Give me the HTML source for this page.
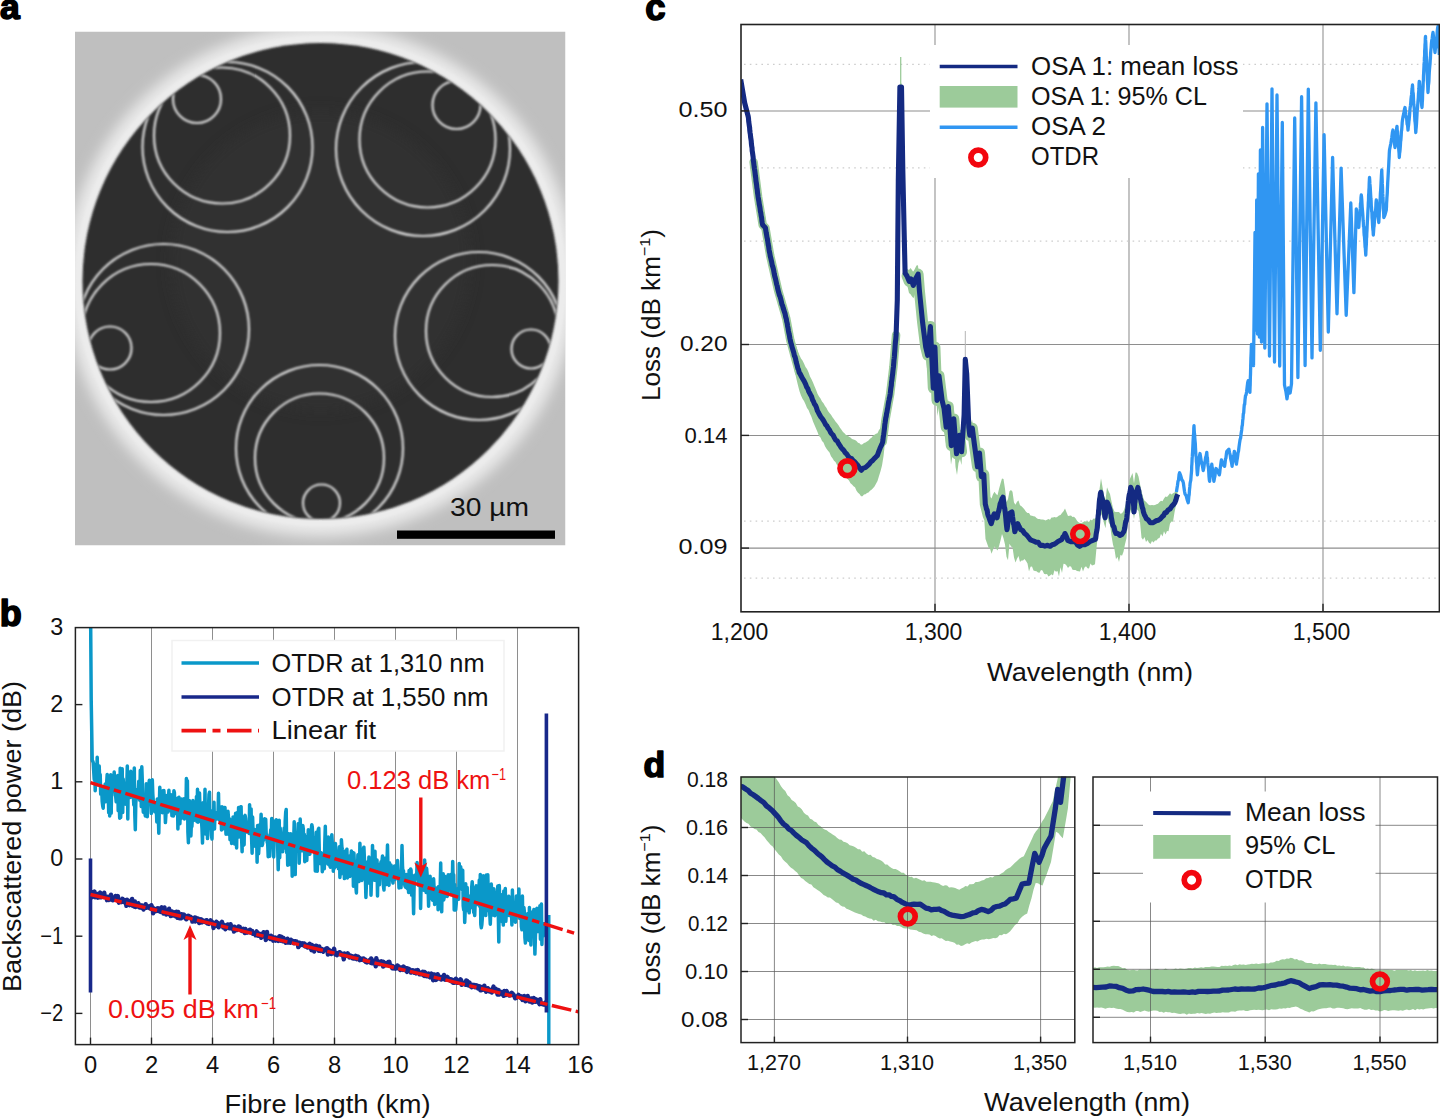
<!DOCTYPE html>
<html lang="en"><head><meta charset="utf-8"><title>Figure: hollow-core fibre loss</title>
<style>html,body{margin:0;padding:0;background:#fff}body{width:1440px;height:1120px;overflow:hidden}svg{display:block}text{font-family:"Liberation Sans", sans-serif}</style>
</head><body>
<svg width="1440" height="1120" viewBox="0 0 1440 1120">
<rect width="1440" height="1120" fill="#fff"/>
<text x="0.0" y="19.4" font-size="35.5" fill="#000" font-weight="bold" stroke="#000" stroke-width="1.6" stroke-linejoin="round">a</text>
<text x="-0.2" y="625.6" font-size="36" fill="#000" font-weight="bold" stroke="#000" stroke-width="1.6" stroke-linejoin="round">b</text>
<text x="645.3" y="19.6" font-size="36.5" fill="#000" font-weight="bold" stroke="#000" stroke-width="1.6" stroke-linejoin="round">c</text>
<text x="643.4" y="776.6" font-size="35.5" fill="#000" font-weight="bold" stroke="#000" stroke-width="1.6" stroke-linejoin="round">d</text>
<defs>
<clipPath id="aclip"><rect x="75" y="31.5" width="490.5" height="514.0"/></clipPath>
<clipPath id="bigc"><circle cx="320.5" cy="281" r="237.5"/></clipPath>
<filter id="blur14" x="-20%" y="-20%" width="140%" height="140%"><feGaussianBlur stdDeviation="7"/></filter>
<filter id="blur1" x="-5%" y="-5%" width="110%" height="110%"><feGaussianBlur stdDeviation="0.9"/></filter>
<filter id="blur06"><feGaussianBlur stdDeviation="0.85"/></filter>
</defs>
<g clip-path="url(#aclip)">
<rect x="75" y="31.5" width="490.5" height="514.0" fill="#bfbfbf"/>
<circle cx="320.5" cy="281" r="244" fill="none" stroke="#ebebeb" stroke-width="22" filter="url(#blur14)"/>
<circle cx="320.5" cy="281" r="241" fill="none" stroke="#ececec" stroke-width="9" filter="url(#blur1)"/>
<g filter="url(#blur1)"><circle cx="320.5" cy="281" r="238" fill="#2d2d2d"/></g>
<circle cx="320.5" cy="261" r="150" fill="#343434" opacity="0.5" filter="url(#blur14)" clip-path="url(#bigc)"/>
<g fill="none" stroke="#dcdcdc" stroke-width="2.2" filter="url(#blur06)"><g clip-path="url(#bigc)"><circle cx="227.5" cy="147" r="85"/><circle cx="222" cy="135.5" r="68"/><circle cx="197" cy="99" r="24"/><circle cx="423" cy="149" r="87"/><circle cx="427.5" cy="139.5" r="68"/><circle cx="456.5" cy="105" r="24"/><circle cx="163.5" cy="329.5" r="85.5"/><circle cx="151" cy="333" r="69"/><circle cx="110" cy="348" r="21.5"/><circle cx="479" cy="336" r="84"/><circle cx="492" cy="331" r="66"/><circle cx="531" cy="349" r="19.5"/><circle cx="319.5" cy="448.5" r="83.5"/><circle cx="319.5" cy="458" r="64.5"/><circle cx="321.5" cy="503" r="18.5"/></g></g>
</g>
<rect x="397" y="530.5" width="158" height="8.3" fill="#000"/>
<text x="450.0" y="516.0" font-size="25" textLength="79.0" lengthAdjust="spacingAndGlyphs" fill="#111">30 µm</text>
<rect x="75.4" y="627.6" width="503.20000000000005" height="416.9999999999999" fill="#fff"/>
<g stroke="#8e8e8e" stroke-width="1"><line x1="90.5" y1="627.6" x2="90.5" y2="1044.6"/><line x1="151.5" y1="627.6" x2="151.5" y2="1044.6"/><line x1="212.5" y1="627.6" x2="212.5" y2="1044.6"/><line x1="273.5" y1="627.6" x2="273.5" y2="1044.6"/><line x1="334.5" y1="627.6" x2="334.5" y2="1044.6"/><line x1="395.5" y1="627.6" x2="395.5" y2="1044.6"/><line x1="456.5" y1="627.6" x2="456.5" y2="1044.6"/><line x1="517.5" y1="627.6" x2="517.5" y2="1044.6"/></g>
<defs><clipPath id="bclip"><rect x="75" y="628" width="503.6" height="417"/></clipPath></defs>
<g clip-path="url(#bclip)" fill="none" stroke-linejoin="round" stroke-linecap="butt">
<polyline points="90.5,600.0 91.2,700.0 92.2,760.0 93.2,762.5 94.2,779.4 94.7,764.2 95.2,790.7 95.7,769.5 96.2,782.9 96.7,785.1 97.2,757.2 97.7,776.0 98.2,781.6 98.7,772.4 99.2,766.0 99.7,780.3 100.2,774.5 100.7,794.2 101.2,789.4 101.7,789.7 102.2,801.6 102.7,805.8 103.2,808.2 103.7,790.4 104.2,787.0 104.7,788.6 105.2,783.9 105.7,801.7 106.2,788.0 106.7,782.0 107.2,774.4 107.7,794.4 108.2,791.7 108.7,812.6 109.2,796.0 109.7,815.9 110.2,808.8 110.7,774.8 111.2,813.2 111.7,779.7 112.2,781.0 112.7,789.7 113.2,781.0 113.7,779.0 114.2,772.0 114.7,787.8 115.2,795.1 115.7,796.5 116.2,801.8 116.7,790.4 117.2,798.5 117.7,775.5 118.2,810.8 118.7,806.0 119.2,803.6 119.7,818.3 120.2,768.2 120.7,817.4 121.2,797.1 121.7,797.3 122.2,768.8 122.7,812.5 123.2,779.1 123.7,797.8 124.2,793.2 124.7,799.4 125.2,783.3 125.8,804.3 126.3,793.7 126.8,786.6 127.3,766.1 127.8,818.9 128.3,775.4 128.8,776.6 129.3,795.7 129.8,788.3 130.3,797.5 130.8,771.2 131.3,786.3 131.8,794.3 132.3,795.8 132.8,795.8 133.3,795.6 133.8,804.9 134.3,767.9 134.8,814.6 135.3,829.7 135.8,802.8 136.3,797.0 136.8,789.5 137.3,796.1 137.8,796.5 138.3,790.3 138.8,781.2 139.3,798.6 139.8,800.3 140.3,770.3 140.8,784.5 141.3,806.6 141.8,766.7 142.3,781.1 142.8,801.3 143.3,812.2 143.8,794.6 144.3,806.9 144.8,811.9 145.3,815.9 145.8,806.2 146.3,783.8 146.8,800.7 147.3,816.8 147.8,791.5 148.3,795.7 148.8,786.3 149.3,780.3 149.8,797.5 150.3,799.9 150.8,799.1 151.3,813.4 151.8,792.0 152.3,779.7 152.8,793.8 153.3,801.4 153.8,803.0 154.3,810.2 154.8,811.7 155.3,806.8 155.8,811.9 156.3,807.5 156.8,822.0 157.3,799.0 157.8,799.6 158.3,815.6 158.8,833.2 159.3,805.9 159.8,787.3 160.3,808.8 160.9,808.9 161.4,810.1 161.9,794.4 162.4,812.8 162.9,790.7 163.4,804.4 163.9,790.5 164.4,800.3 164.9,805.3 165.4,822.6 165.9,814.9 166.4,808.3 166.9,795.4 167.4,799.0 167.9,812.1 168.4,799.6 168.9,790.3 169.4,804.0 169.9,809.9 170.4,810.4 170.9,794.8 171.4,796.1 171.9,815.7 172.4,801.7 172.9,810.9 173.4,816.0 173.9,790.8 174.4,792.6 174.9,813.3 175.4,806.0 175.9,799.5 176.4,813.6 176.9,809.1 177.4,798.2 177.9,828.9 178.4,805.9 178.9,797.2 179.4,799.1 179.9,823.7 180.4,805.8 180.9,818.7 181.4,802.0 181.9,799.1 182.4,803.9 182.9,817.7 183.4,817.6 183.9,798.7 184.4,819.0 184.9,803.9 185.4,801.6 185.9,811.7 186.4,778.5 186.9,803.9 187.4,780.7 187.9,831.9 188.4,842.7 188.9,802.2 189.4,800.7 189.9,813.1 190.4,811.7 190.9,835.9 191.4,822.9 191.9,826.4 192.4,816.4 192.9,800.5 193.4,809.2 193.9,806.5 194.4,820.2 194.9,819.0 195.4,811.7 196.0,816.0 196.5,796.4 197.0,821.7 197.5,789.3 198.0,822.3 198.5,800.6 199.0,821.5 199.5,793.0 200.0,808.7 200.5,807.8 201.0,803.2 201.5,820.8 202.0,828.9 202.5,843.1 203.0,802.8 203.5,822.0 204.0,823.7 204.5,816.7 205.0,789.3 205.5,834.1 206.0,815.0 206.5,820.7 207.0,809.5 207.5,838.6 208.0,824.7 208.5,806.5 209.0,794.5 209.5,792.3 210.0,824.3 210.5,817.3 211.0,818.5 211.5,835.4 212.0,839.0 212.5,810.8 213.0,813.4 213.5,819.0 214.0,802.2 214.5,828.9 215.0,813.0 215.5,817.5 216.0,819.2 216.5,812.4 217.0,815.6 217.5,815.0 218.0,815.1 218.5,793.3 219.0,819.7 219.5,806.4 220.0,809.8 220.5,823.1 221.0,810.1 221.5,830.0 222.0,806.7 222.5,829.1 223.0,828.5 223.5,817.8 224.0,809.7 224.5,807.6 225.0,807.6 225.5,822.2 226.0,834.3 226.5,816.5 227.0,817.2 227.5,833.9 228.0,811.3 228.5,818.2 229.0,834.5 229.5,818.8 230.0,839.7 230.6,837.1 231.1,820.1 231.6,843.4 232.1,826.1 232.6,841.8 233.1,816.9 233.6,832.5 234.1,823.1 234.6,843.9 235.1,831.9 235.6,813.3 236.1,817.1 236.6,847.9 237.1,816.4 237.6,812.3 238.1,828.4 238.6,807.4 239.1,836.9 239.6,828.7 240.1,811.9 240.6,806.9 241.1,806.7 241.6,837.9 242.1,851.8 242.6,825.5 243.1,845.6 243.6,831.7 244.1,844.8 244.6,816.2 245.1,815.4 245.6,818.6 246.1,826.3 246.6,827.2 247.1,832.0 247.6,823.9 248.1,824.6 248.6,822.1 249.1,833.5 249.6,804.8 250.1,821.8 250.6,809.9 251.1,809.1 251.6,838.1 252.1,853.2 252.6,817.0 253.1,833.2 253.6,829.7 254.1,833.7 254.6,829.4 255.1,846.2 255.6,834.6 256.1,837.7 256.6,832.4 257.1,862.2 257.6,825.4 258.1,826.4 258.6,853.7 259.1,844.9 259.6,833.7 260.1,824.3 260.6,831.2 261.1,814.3 261.6,829.7 262.1,845.6 262.6,843.9 263.1,825.1 263.6,840.2 264.1,823.5 264.6,818.8 265.1,823.9 265.7,819.2 266.2,834.2 266.7,834.5 267.2,842.3 267.7,843.8 268.2,856.7 268.7,845.5 269.2,850.8 269.7,856.3 270.2,836.7 270.7,829.8 271.2,839.3 271.7,818.5 272.2,821.1 272.7,820.2 273.2,841.9 273.7,856.9 274.2,832.4 274.7,832.1 275.2,826.7 275.7,830.1 276.2,819.7 276.7,838.6 277.2,829.0 277.7,848.2 278.2,869.8 278.7,848.7 279.2,820.2 279.7,857.7 280.2,828.1 280.7,846.0 281.2,845.2 281.7,839.4 282.2,836.4 282.7,851.7 283.2,839.7 283.7,833.8 284.2,828.0 284.7,848.1 285.2,821.0 285.7,812.4 286.2,809.5 286.7,852.8 287.2,840.3 287.7,865.2 288.2,839.7 288.7,833.7 289.2,855.3 289.7,864.4 290.2,842.6 290.7,833.7 291.2,851.2 291.7,846.9 292.2,876.2 292.7,856.8 293.2,842.8 293.7,840.8 294.2,821.8 294.7,854.9 295.2,874.6 295.7,842.1 296.2,851.1 296.7,841.1 297.2,834.0 297.7,834.6 298.2,823.8 298.7,823.5 299.2,863.2 299.7,848.3 300.2,819.1 300.8,846.4 301.3,832.6 301.8,844.1 302.3,850.8 302.8,825.6 303.3,829.1 303.8,846.6 304.3,834.2 304.8,861.7 305.3,858.2 305.8,836.4 306.3,844.6 306.8,860.5 307.3,843.1 307.8,842.2 308.3,829.7 308.8,832.2 309.3,848.9 309.8,854.3 310.3,850.7 310.8,851.5 311.3,829.5 311.8,824.7 312.3,827.2 312.8,840.5 313.3,850.8 313.8,837.4 314.3,852.0 314.8,846.6 315.3,870.9 315.8,858.4 316.3,832.2 316.8,860.8 317.3,871.3 317.8,855.6 318.3,829.3 318.8,828.4 319.3,852.1 319.8,857.4 320.3,853.5 320.8,863.8 321.3,852.8 321.8,855.6 322.3,871.7 322.8,862.4 323.3,856.9 323.8,864.2 324.3,868.8 324.8,843.0 325.3,826.3 325.8,852.6 326.3,858.5 326.8,847.3 327.3,855.4 327.8,864.0 328.3,836.9 328.8,864.8 329.3,865.1 329.8,864.4 330.3,867.3 330.8,859.4 331.3,847.7 331.8,834.7 332.3,843.1 332.8,852.7 333.3,871.2 333.8,858.5 334.3,868.2 334.8,858.8 335.4,843.4 335.9,851.3 336.4,858.1 336.9,866.4 337.4,858.2 337.9,855.3 338.4,868.7 338.9,865.2 339.4,846.7 339.9,877.4 340.4,866.1 340.9,874.1 341.4,839.8 341.9,847.1 342.4,849.6 342.9,851.6 343.4,853.5 343.9,853.8 344.4,878.6 344.9,858.3 345.4,851.0 345.9,876.6 346.4,851.0 346.9,849.3 347.4,877.9 347.9,868.6 348.4,865.1 348.9,867.7 349.4,856.1 349.9,876.4 350.4,865.8 350.9,858.4 351.4,850.9 351.9,858.7 352.4,863.9 352.9,852.5 353.4,886.2 353.9,853.0 354.4,864.4 354.9,878.6 355.4,870.1 355.9,887.4 356.4,892.9 356.9,871.3 357.4,874.1 357.9,854.8 358.4,873.3 358.9,881.6 359.4,878.6 359.9,843.2 360.4,860.2 360.9,871.2 361.4,878.0 361.9,880.5 362.4,868.8 362.9,859.4 363.4,848.6 363.9,847.2 364.4,858.6 364.9,872.6 365.4,877.5 365.9,897.5 366.4,883.6 366.9,862.8 367.4,869.7 367.9,861.6 368.4,883.1 368.9,857.0 369.4,861.1 369.9,865.1 370.5,861.2 371.0,895.3 371.5,878.6 372.0,880.6 372.5,845.5 373.0,866.6 373.5,874.1 374.0,857.5 374.5,880.2 375.0,851.2 375.5,874.9 376.0,870.1 376.5,880.8 377.0,859.9 377.5,896.0 378.0,864.0 378.5,879.1 379.0,870.1 379.5,884.7 380.0,868.9 380.5,867.2 381.0,861.8 381.5,864.7 382.0,861.3 382.5,856.0 383.0,873.5 383.5,886.6 384.0,890.0 384.5,865.0 385.0,875.2 385.5,858.1 386.0,868.9 386.5,884.5 387.0,861.8 387.5,845.0 388.0,870.4 388.5,884.3 389.0,885.3 389.5,862.8 390.0,878.9 390.5,879.1 391.0,865.0 391.5,871.8 392.0,871.6 392.5,880.4 393.0,883.1 393.5,873.1 394.0,871.8 394.5,866.0 395.0,879.6 395.5,870.7 396.0,867.8 396.5,872.6 397.0,867.1 397.5,860.6 398.0,870.5 398.5,873.6 399.0,888.0 399.5,873.3 400.0,876.7 400.5,880.2 401.0,887.6 401.5,870.5 402.0,845.6 402.5,865.8 403.0,874.0 403.5,870.8 404.0,884.0 404.5,877.0 405.0,886.1 405.6,887.3 406.1,876.1 406.6,874.6 407.1,879.0 407.6,888.8 408.1,876.5 408.6,892.5 409.1,870.6 409.6,882.2 410.1,879.5 410.6,868.9 411.1,870.4 411.6,895.1 412.1,885.2 412.6,875.8 413.1,893.6 413.6,913.7 414.1,886.2 414.6,881.9 415.1,875.1 415.6,878.8 416.1,878.8 416.6,877.6 417.1,862.6 417.6,872.2 418.1,873.0 418.6,885.5 419.1,867.6 419.6,882.3 420.1,872.5 420.6,908.5 421.1,883.1 421.6,883.9 422.1,889.0 422.6,866.9 423.1,875.3 423.6,883.9 424.1,890.3 424.6,859.9 425.1,870.3 425.6,873.2 426.1,892.4 426.6,868.3 427.1,874.6 427.6,886.5 428.1,886.3 428.6,906.3 429.1,879.6 429.6,898.6 430.1,876.2 430.6,889.8 431.1,894.3 431.6,882.2 432.1,882.6 432.6,900.3 433.1,889.3 433.6,878.8 434.1,888.6 434.6,904.5 435.1,892.6 435.6,900.4 436.1,896.7 436.6,888.1 437.1,888.2 437.6,890.4 438.1,909.8 438.6,886.6 439.1,890.5 439.6,893.9 440.2,887.2 440.7,863.1 441.2,901.7 441.7,911.8 442.2,882.4 442.7,898.5 443.2,873.7 443.7,900.0 444.2,897.5 444.7,880.0 445.2,876.5 445.7,882.3 446.2,883.1 446.7,891.0 447.2,896.4 447.7,894.2 448.2,874.8 448.7,879.3 449.2,889.2 449.7,886.9 450.2,880.0 450.7,874.4 451.2,890.9 451.7,892.8 452.2,887.9 452.7,861.4 453.2,884.0 453.7,874.7 454.2,910.1 454.7,884.4 455.2,910.1 455.7,909.8 456.2,904.1 456.7,897.0 457.2,891.8 457.7,888.7 458.2,890.3 458.7,899.3 459.2,863.4 459.7,884.3 460.2,884.4 460.7,866.8 461.2,878.1 461.7,885.0 462.2,889.5 462.7,870.2 463.2,905.8 463.7,909.7 464.2,896.0 464.7,922.5 465.2,910.3 465.7,883.7 466.2,900.6 466.7,895.1 467.2,887.5 467.7,910.7 468.2,895.6 468.7,905.2 469.2,912.8 469.7,903.4 470.2,899.3 470.7,903.3 471.2,907.4 471.7,887.2 472.2,881.7 472.7,888.8 473.2,898.5 473.7,912.5 474.2,911.7 474.7,915.4 475.3,899.0 475.8,887.5 476.3,885.9 476.8,898.0 477.3,904.6 477.8,898.4 478.3,898.4 478.8,892.4 479.3,880.1 479.8,906.5 480.3,874.5 480.8,924.3 481.3,927.8 481.8,925.0 482.3,918.3 482.8,907.2 483.3,875.7 483.8,907.1 484.3,888.5 484.8,904.9 485.3,900.8 485.8,915.6 486.3,875.1 486.8,899.2 487.3,910.5 487.8,874.7 488.3,896.7 488.8,897.1 489.3,904.6 489.8,914.7 490.3,924.2 490.8,909.4 491.3,884.1 491.8,895.9 492.3,905.6 492.8,891.1 493.3,915.0 493.8,888.7 494.3,903.0 494.8,915.8 495.3,898.3 495.8,897.9 496.3,909.1 496.8,903.7 497.3,893.1 497.8,886.1 498.3,914.4 498.8,942.0 499.3,885.5 499.8,907.1 500.3,912.5 500.8,902.5 501.3,912.2 501.8,894.7 502.3,922.0 502.8,912.7 503.3,925.1 503.8,890.9 504.3,908.9 504.8,894.3 505.3,888.5 505.8,921.3 506.3,913.7 506.8,900.5 507.3,907.3 507.8,910.9 508.3,898.8 508.8,896.2 509.3,915.6 509.8,912.7 510.4,902.2 510.9,906.4 511.4,908.1 511.9,924.9 512.4,890.1 512.9,910.9 513.4,907.6 513.9,911.2 514.4,910.6 514.9,909.5 515.4,922.3 515.9,908.6 516.4,895.9 516.9,904.6 517.4,901.8 517.9,904.6 518.4,911.1 518.9,889.0 519.4,918.3 519.9,908.9 520.4,899.3 520.9,907.6 521.4,926.4 521.9,929.8 522.4,896.0 522.9,923.9 523.4,915.6 523.9,907.5 524.4,912.3 524.9,937.5 525.4,943.0 525.9,920.6 526.4,926.1 526.9,920.4 527.4,915.1 527.9,913.5 528.4,932.9 528.9,940.4 529.4,907.6 529.9,923.2 530.4,932.7 530.9,945.0 531.4,914.0 531.9,932.9 532.4,933.1 532.9,911.5 533.4,912.5 533.9,909.5 534.4,933.0 534.9,954.1 535.4,936.8 535.9,924.9 536.4,928.0 536.9,908.3 537.4,912.4 537.9,931.5 538.4,913.5 538.9,920.2 539.4,925.7 539.9,905.7 540.4,939.3 540.9,909.2 541.4,904.1 541.9,944.5 542.4,926.3 542.9,923.4 543.4,935.8 543.9,930.4 544.4,932.9 545.0,922.0" stroke="#0a98c9" stroke-width="3.5"/>
<line x1="548.8" y1="915" x2="548.8" y2="1046" stroke="#0a98c9" stroke-width="3.4"/>
<line x1="90.5" y1="858.5" x2="90.5" y2="992.5" stroke="#18288a" stroke-width="3.6"/>
<polyline points="91.1,894.7 91.7,897.3 92.2,892.3 92.8,892.9 93.4,895.7 94.0,893.2 94.5,891.6 95.1,897.2 95.7,895.6 96.2,895.9 96.8,894.4 97.4,895.9 97.9,897.7 98.5,893.7 99.1,896.3 99.6,894.8 100.2,892.6 100.8,897.4 101.4,897.0 101.9,895.1 102.5,896.8 103.1,896.0 103.6,896.9 104.2,892.7 104.8,896.2 105.3,896.8 105.9,897.3 106.5,897.0 107.0,900.2 107.6,898.3 108.2,896.8 108.8,900.0 109.3,898.2 109.9,898.5 110.5,899.3 111.0,894.8 111.6,897.7 112.2,898.4 112.7,900.3 113.3,899.1 113.9,899.8 114.4,899.6 115.0,899.3 115.6,895.9 116.2,897.8 116.7,897.4 117.3,898.1 117.9,896.0 118.4,901.5 119.0,902.6 119.6,900.4 120.1,900.5 120.7,900.9 121.3,902.1 121.8,900.2 122.4,898.7 123.0,901.2 123.6,902.0 124.1,900.0 124.7,902.4 125.3,902.6 125.8,901.7 126.4,905.9 127.0,899.6 127.5,902.8 128.1,902.0 128.7,902.4 129.2,902.4 129.8,905.2 130.4,900.6 131.0,902.6 131.5,903.1 132.1,898.9 132.7,905.8 133.2,902.9 133.8,904.3 134.4,906.6 134.9,901.4 135.5,907.0 136.1,904.5 136.6,905.0 137.2,904.7 137.8,906.6 138.3,903.1 138.9,905.0 139.5,907.5 140.1,907.5 140.6,905.4 141.2,907.7 141.8,905.4 142.3,905.7 142.9,907.2 143.5,909.5 144.0,908.6 144.6,906.2 145.2,907.7 145.7,904.1 146.3,907.8 146.9,906.7 147.5,906.4 148.0,907.4 148.6,907.2 149.2,906.3 149.7,908.2 150.3,907.6 150.9,908.8 151.4,905.3 152.0,908.3 152.6,907.4 153.1,913.4 153.7,909.7 154.3,910.8 154.9,909.1 155.4,910.0 156.0,911.1 156.6,910.0 157.1,908.5 157.7,908.2 158.3,910.9 158.8,908.5 159.4,911.3 160.0,909.5 160.5,911.9 161.1,909.1 161.7,907.3 162.3,911.4 162.8,909.2 163.4,913.5 164.0,912.4 164.5,907.4 165.1,911.8 165.7,911.0 166.2,914.5 166.8,912.1 167.4,913.4 167.9,910.5 168.5,913.3 169.1,908.7 169.7,914.5 170.2,912.4 170.8,916.1 171.4,913.8 171.9,911.4 172.5,913.6 173.1,915.6 173.6,913.0 174.2,912.4 174.8,913.3 175.3,912.6 175.9,916.5 176.5,911.6 177.1,913.4 177.6,917.9 178.2,911.9 178.8,915.7 179.3,914.3 179.9,918.3 180.5,916.3 181.0,918.3 181.6,914.3 182.2,916.1 182.7,917.3 183.3,916.6 183.9,914.5 184.5,917.5 185.0,915.6 185.6,918.4 186.2,919.3 186.7,917.6 187.3,917.5 187.9,916.9 188.4,915.8 189.0,918.1 189.6,918.1 190.1,916.5 190.7,917.2 191.3,918.1 191.9,917.7 192.4,921.6 193.0,919.2 193.6,921.0 194.1,919.2 194.7,917.4 195.3,921.5 195.8,917.6 196.4,920.1 197.0,919.7 197.5,920.2 198.1,918.5 198.7,920.8 199.2,923.1 199.8,919.5 200.4,920.4 201.0,919.3 201.5,919.5 202.1,922.4 202.7,920.4 203.2,920.7 203.8,921.1 204.4,921.0 204.9,920.8 205.5,922.2 206.1,921.8 206.6,920.2 207.2,923.4 207.8,922.1 208.4,923.6 208.9,923.9 209.5,923.0 210.1,922.2 210.6,920.3 211.2,923.1 211.8,921.5 212.3,922.2 212.9,923.1 213.5,928.1 214.0,923.3 214.6,923.5 215.2,925.3 215.8,923.7 216.3,921.7 216.9,925.9 217.5,925.1 218.0,923.0 218.6,927.3 219.2,926.3 219.7,924.4 220.3,923.5 220.9,923.2 221.4,924.1 222.0,921.8 222.6,924.9 223.2,927.6 223.7,926.1 224.3,924.9 224.9,925.5 225.4,929.2 226.0,925.7 226.6,927.7 227.1,926.9 227.7,924.5 228.3,927.1 228.8,928.0 229.4,927.3 230.0,928.3 230.6,924.3 231.1,926.3 231.7,926.3 232.3,928.9 232.8,929.0 233.4,927.7 234.0,931.6 234.5,926.8 235.1,930.5 235.7,928.5 236.2,928.3 236.8,930.1 237.4,928.5 238.0,928.1 238.5,926.4 239.1,928.9 239.7,926.8 240.2,929.0 240.8,930.2 241.4,928.7 241.9,931.0 242.5,930.1 243.1,929.5 243.6,928.8 244.2,930.3 244.8,933.1 245.4,929.0 245.9,930.8 246.5,931.7 247.1,932.6 247.6,930.6 248.2,931.1 248.8,930.7 249.3,932.1 249.9,929.7 250.5,932.6 251.0,931.7 251.6,932.2 252.2,931.0 252.8,933.8 253.3,933.4 253.9,933.4 254.5,934.2 255.0,934.3 255.6,935.3 256.2,932.4 256.7,931.4 257.3,935.4 257.9,932.8 258.4,935.9 259.0,935.5 259.6,934.9 260.1,934.3 260.7,934.0 261.3,937.8 261.9,937.0 262.4,935.0 263.0,935.6 263.6,932.1 264.1,935.9 264.7,936.6 265.3,933.9 265.8,940.0 266.4,938.9 267.0,932.0 267.5,937.3 268.1,936.3 268.7,936.9 269.3,938.1 269.8,937.1 270.4,939.0 271.0,935.7 271.5,936.1 272.1,936.4 272.7,939.0 273.2,940.7 273.8,938.6 274.4,939.7 274.9,937.5 275.5,940.7 276.1,939.8 276.7,938.3 277.2,938.0 277.8,938.6 278.4,940.9 278.9,940.1 279.5,936.1 280.1,937.9 280.6,940.7 281.2,936.7 281.8,939.9 282.3,939.9 282.9,941.3 283.5,937.8 284.1,940.1 284.6,940.6 285.2,942.0 285.8,942.7 286.3,940.6 286.9,941.0 287.5,938.7 288.0,942.6 288.6,942.0 289.2,940.0 289.7,940.4 290.3,942.8 290.9,939.7 291.5,941.3 292.0,940.8 292.6,941.8 293.2,941.0 293.7,943.3 294.3,943.1 294.9,941.2 295.4,942.4 296.0,942.6 296.6,941.5 297.1,943.1 297.7,942.9 298.3,947.1 298.9,944.7 299.4,942.7 300.0,945.5 300.6,944.7 301.1,944.0 301.7,944.7 302.3,943.3 302.8,944.1 303.4,945.2 304.0,943.4 304.5,945.8 305.1,946.4 305.7,945.0 306.3,944.7 306.8,946.0 307.4,947.6 308.0,946.8 308.5,945.8 309.1,945.3 309.7,943.7 310.2,946.8 310.8,947.1 311.4,950.2 311.9,945.0 312.5,945.7 313.1,947.3 313.6,948.5 314.2,951.6 314.8,946.6 315.4,949.0 315.9,945.6 316.5,946.9 317.1,946.2 317.6,948.6 318.2,946.7 318.8,950.8 319.3,946.5 319.9,949.0 320.5,950.9 321.0,949.8 321.6,950.8 322.2,949.1 322.8,950.7 323.3,951.7 323.9,950.4 324.5,950.4 325.0,949.8 325.6,949.2 326.2,948.5 326.7,949.9 327.3,948.2 327.9,954.6 328.4,951.1 329.0,949.7 329.6,953.3 330.2,951.7 330.7,951.2 331.3,954.0 331.9,952.7 332.4,951.0 333.0,952.5 333.6,949.8 334.1,948.7 334.7,952.6 335.3,954.4 335.8,952.8 336.4,953.7 337.0,955.2 337.6,953.8 338.1,954.0 338.7,954.0 339.3,952.1 339.8,952.1 340.4,953.2 341.0,954.5 341.5,953.5 342.1,954.2 342.7,954.0 343.2,956.0 343.8,959.4 344.4,953.4 345.0,955.9 345.5,955.8 346.1,955.2 346.7,955.4 347.2,955.9 347.8,953.3 348.4,955.6 348.9,955.5 349.5,957.4 350.1,956.3 350.6,955.6 351.2,956.6 351.8,956.1 352.4,958.2 352.9,956.3 353.5,958.6 354.1,957.8 354.6,958.4 355.2,957.1 355.8,955.9 356.3,957.2 356.9,959.2 357.5,957.7 358.0,956.5 358.6,957.1 359.2,957.6 359.8,960.2 360.3,959.5 360.9,959.8 361.5,959.6 362.0,958.7 362.6,959.1 363.2,959.8 363.7,958.6 364.3,960.7 364.9,960.2 365.4,959.7 366.0,962.1 366.6,961.4 367.2,962.4 367.7,962.0 368.3,960.8 368.9,960.9 369.4,960.3 370.0,960.4 370.6,962.8 371.1,958.4 371.7,959.3 372.3,963.4 372.8,962.7 373.4,962.5 374.0,961.6 374.5,961.1 375.1,962.2 375.7,966.3 376.3,958.1 376.8,961.3 377.4,961.5 378.0,964.0 378.5,962.9 379.1,961.7 379.7,964.0 380.2,961.7 380.8,963.4 381.4,961.3 381.9,963.7 382.5,961.7 383.1,966.6 383.7,962.0 384.2,963.7 384.8,965.1 385.4,963.0 385.9,965.2 386.5,963.7 387.1,963.6 387.6,963.6 388.2,961.9 388.8,963.4 389.3,961.8 389.9,964.7 390.5,965.6 391.1,965.4 391.6,966.2 392.2,968.2 392.8,966.2 393.3,968.4 393.9,967.1 394.5,967.3 395.0,967.8 395.6,968.7 396.2,967.1 396.7,967.4 397.3,965.4 397.9,966.7 398.5,966.3 399.0,968.7 399.6,968.5 400.2,970.1 400.7,969.7 401.3,967.4 401.9,968.9 402.4,969.0 403.0,969.8 403.6,966.6 404.1,969.2 404.7,967.6 405.3,969.5 405.9,968.1 406.4,971.2 407.0,971.9 407.6,968.3 408.1,970.6 408.7,969.8 409.3,969.1 409.8,969.5 410.4,970.3 411.0,972.6 411.5,972.0 412.1,971.0 412.7,970.2 413.3,970.6 413.8,970.9 414.4,972.8 415.0,971.8 415.5,970.4 416.1,973.4 416.7,973.0 417.2,970.9 417.8,970.0 418.4,972.0 418.9,972.7 419.5,974.3 420.1,973.2 420.7,974.3 421.2,973.1 421.8,972.3 422.4,972.8 422.9,971.7 423.5,975.4 424.1,975.9 424.6,972.0 425.2,972.6 425.8,975.9 426.3,974.3 426.9,976.3 427.5,974.8 428.0,974.4 428.6,973.6 429.2,976.7 429.8,977.3 430.3,974.6 430.9,976.1 431.5,973.6 432.0,977.6 432.6,977.0 433.2,980.3 433.7,974.5 434.3,974.4 434.9,975.9 435.4,977.2 436.0,979.9 436.6,979.1 437.2,977.9 437.7,974.3 438.3,976.0 438.9,978.4 439.4,977.0 440.0,976.9 440.6,977.1 441.1,979.5 441.7,978.9 442.3,976.8 442.8,977.4 443.4,979.1 444.0,975.0 444.6,978.4 445.1,979.6 445.7,977.8 446.3,978.0 446.8,979.6 447.4,976.8 448.0,978.0 448.5,979.8 449.1,978.9 449.7,979.1 450.2,980.7 450.8,979.3 451.4,981.3 452.0,981.0 452.5,979.8 453.1,982.8 453.7,981.6 454.2,982.7 454.8,980.2 455.4,982.4 455.9,978.8 456.5,979.4 457.1,982.9 457.6,981.8 458.2,982.7 458.8,982.3 459.4,981.4 459.9,980.3 460.5,979.4 461.1,980.0 461.6,984.9 462.2,983.8 462.8,983.5 463.3,983.9 463.9,983.3 464.5,982.7 465.0,984.5 465.6,984.8 466.2,980.5 466.8,983.1 467.3,981.0 467.9,985.3 468.5,982.5 469.0,982.2 469.6,982.8 470.2,986.2 470.7,984.3 471.3,986.5 471.9,987.2 472.4,985.6 473.0,984.9 473.6,986.2 474.2,986.2 474.7,985.1 475.3,987.3 475.9,985.7 476.4,985.3 477.0,985.7 477.6,985.9 478.1,988.5 478.7,987.5 479.3,987.9 479.8,986.3 480.4,990.2 481.0,987.4 481.6,990.2 482.1,986.9 482.7,988.8 483.3,988.1 483.8,986.9 484.4,985.8 485.0,990.1 485.5,988.5 486.1,991.8 486.7,989.3 487.2,990.2 487.8,988.2 488.4,989.6 488.9,989.4 489.5,991.4 490.1,990.3 490.7,991.7 491.2,990.1 491.8,992.6 492.4,990.0 492.9,988.8 493.5,986.6 494.1,988.5 494.6,988.9 495.2,989.8 495.8,988.7 496.3,991.4 496.9,990.8 497.5,994.5 498.1,992.5 498.6,990.1 499.2,994.6 499.8,991.6 500.3,992.4 500.9,993.0 501.5,992.1 502.0,992.6 502.6,994.5 503.2,993.1 503.7,995.9 504.3,990.9 504.9,993.4 505.5,992.1 506.0,995.0 506.6,991.0 507.2,992.4 507.7,993.5 508.3,993.8 508.9,993.7 509.4,995.6 510.0,994.8 510.6,995.1 511.1,994.3 511.7,992.7 512.3,993.4 512.9,994.9 513.4,994.4 514.0,996.0 514.6,996.4 515.1,998.3 515.7,997.9 516.3,997.9 516.8,996.3 517.4,996.6 518.0,995.8 518.5,994.9 519.1,995.7 519.7,997.1 520.3,997.8 520.8,997.6 521.4,996.4 522.0,998.9 522.5,999.9 523.1,998.1 523.7,996.3 524.2,996.1 524.8,997.2 525.4,1001.2 525.9,998.7 526.5,997.5 527.1,997.0 527.7,996.0 528.2,1000.4 528.8,998.5 529.4,1001.6 529.9,999.7 530.5,1000.1 531.1,998.4 531.6,999.5 532.2,1002.6 532.8,1000.3 533.3,999.6 533.9,998.1 534.5,1001.6 535.1,1001.9 535.6,1001.7 536.2,999.3 536.8,1001.5 537.3,1001.0 537.9,1000.6 538.5,1002.7 539.0,999.9 539.6,1004.2 540.2,999.1 540.7,1003.0 541.3,1003.5 541.9,1003.4 542.5,1004.2 543.0,1003.9 543.6,1003.9 544.2,1004.6 544.7,1003.2 545.3,1002.6 545.9,1004.1" stroke="#18288a" stroke-width="4.4"/>
<line x1="546.4" y1="713.5" x2="546.4" y2="1012.5" stroke="#18288a" stroke-width="3.6"/>
<line x1="90.5" y1="782.6" x2="578.5" y2="934.5" stroke="#ee1111" stroke-width="3.4" stroke-dasharray="20 4.5 7.5 4.5"/>
<line x1="90.5" y1="894.5" x2="578.5" y2="1011.9" stroke="#ee1111" stroke-width="3.4" stroke-dasharray="20 4.5 7.5 4.5"/>
</g>
<rect x="172" y="640.5" width="332" height="110.5" fill="#fff" stroke="#f1f1f1" stroke-width="1.5"/>
<line x1="181.5" y1="663" x2="259" y2="663" stroke="#0a98c9" stroke-width="3.6"/>
<line x1="181.5" y1="697" x2="259" y2="697" stroke="#18288a" stroke-width="3.6"/>
<line x1="181.5" y1="730.7" x2="259" y2="730.7" stroke="#ee1111" stroke-width="3.8" stroke-dasharray="24.5 6.5 8 6.5"/>
<text x="271.6" y="671.5" font-size="25.5" textLength="213.0" lengthAdjust="spacingAndGlyphs" fill="#111">OTDR at 1,310 nm</text>
<text x="271.6" y="705.5" font-size="25.5" textLength="217.0" lengthAdjust="spacingAndGlyphs" fill="#111">OTDR at 1,550 nm</text>
<text x="271.6" y="739.0" font-size="25.5" textLength="104.6" lengthAdjust="spacingAndGlyphs" fill="#111">Linear fit</text>
<text x="347.0" y="789.0" font-size="25" textLength="143.4" lengthAdjust="spacingAndGlyphs" fill="#ee1111">0.123 dB km</text>
<text x="491.5" y="779.5" font-size="16.5" textLength="14.5" lengthAdjust="spacingAndGlyphs" fill="#ee1111">−1</text>
<text x="108.0" y="1018.0" font-size="25" textLength="151.0" lengthAdjust="spacingAndGlyphs" fill="#ee1111">0.095 dB km</text>
<text x="261.0" y="1008.5" font-size="16.5" textLength="15.0" lengthAdjust="spacingAndGlyphs" fill="#ee1111">−1</text>
<line x1="420.8" y1="797.5" x2="420.8" y2="867.5" stroke="#ee1111" stroke-width="3.4"/>
<polygon points="414.3,862.5 420.8,877.5 427.3,862.5 420.8,866.5" fill="#ee1111"/>
<line x1="190" y1="994.5" x2="190" y2="935" stroke="#ee1111" stroke-width="3.4"/>
<polygon points="183.5,940 190,925 196.5,940 190,936" fill="#ee1111"/>
<rect x="75.4" y="627.6" width="503.20000000000005" height="416.9999999999999" fill="none" stroke="#222" stroke-width="1.5"/>
<g stroke="#222" stroke-width="1.4"><line x1="90.5" y1="1044.6" x2="90.5" y2="1037.6"/><line x1="151.5" y1="1044.6" x2="151.5" y2="1037.6"/><line x1="212.5" y1="1044.6" x2="212.5" y2="1037.6"/><line x1="273.5" y1="1044.6" x2="273.5" y2="1037.6"/><line x1="334.5" y1="1044.6" x2="334.5" y2="1037.6"/><line x1="395.5" y1="1044.6" x2="395.5" y2="1037.6"/><line x1="456.5" y1="1044.6" x2="456.5" y2="1037.6"/><line x1="517.5" y1="1044.6" x2="517.5" y2="1037.6"/><line x1="75.4" y1="1013.4" x2="82.4" y2="1013.4"/><line x1="75.4" y1="936.2" x2="82.4" y2="936.2"/><line x1="75.4" y1="859.0" x2="82.4" y2="859.0"/><line x1="75.4" y1="781.8" x2="82.4" y2="781.8"/><line x1="75.4" y1="704.6" x2="82.4" y2="704.6"/></g>
<text x="90.5" y="1072.5" font-size="23.2" text-anchor="middle" textLength="13.2" lengthAdjust="spacingAndGlyphs" fill="#111">0</text>
<text x="151.5" y="1072.5" font-size="23.2" text-anchor="middle" textLength="13.2" lengthAdjust="spacingAndGlyphs" fill="#111">2</text>
<text x="212.5" y="1072.5" font-size="23.2" text-anchor="middle" textLength="13.2" lengthAdjust="spacingAndGlyphs" fill="#111">4</text>
<text x="273.5" y="1072.5" font-size="23.2" text-anchor="middle" textLength="13.2" lengthAdjust="spacingAndGlyphs" fill="#111">6</text>
<text x="334.5" y="1072.5" font-size="23.2" text-anchor="middle" textLength="13.2" lengthAdjust="spacingAndGlyphs" fill="#111">8</text>
<text x="395.5" y="1072.5" font-size="23.2" text-anchor="middle" textLength="26.4" lengthAdjust="spacingAndGlyphs" fill="#111">10</text>
<text x="456.5" y="1072.5" font-size="23.2" text-anchor="middle" textLength="26.4" lengthAdjust="spacingAndGlyphs" fill="#111">12</text>
<text x="517.5" y="1072.5" font-size="23.2" text-anchor="middle" textLength="26.4" lengthAdjust="spacingAndGlyphs" fill="#111">14</text>
<text x="580.5" y="1072.5" font-size="23.2" text-anchor="middle" textLength="26.4" lengthAdjust="spacingAndGlyphs" fill="#111">16</text>
<text x="63.2" y="1020.8" font-size="23.2" text-anchor="end" textLength="23.0" lengthAdjust="spacingAndGlyphs" fill="#111">−2</text>
<text x="63.2" y="943.6" font-size="23.2" text-anchor="end" textLength="23.0" lengthAdjust="spacingAndGlyphs" fill="#111">−1</text>
<text x="63.2" y="866.4" font-size="23.2" text-anchor="end" textLength="13.0" lengthAdjust="spacingAndGlyphs" fill="#111">0</text>
<text x="63.2" y="789.2" font-size="23.2" text-anchor="end" textLength="13.0" lengthAdjust="spacingAndGlyphs" fill="#111">1</text>
<text x="63.2" y="712.0" font-size="23.2" text-anchor="end" textLength="13.0" lengthAdjust="spacingAndGlyphs" fill="#111">2</text>
<text x="63.2" y="634.8" font-size="23.2" text-anchor="end" textLength="13.0" lengthAdjust="spacingAndGlyphs" fill="#111">3</text>
<text x="21.0" y="836.5" font-size="25" text-anchor="middle" textLength="311.0" lengthAdjust="spacingAndGlyphs" fill="#111" transform="rotate(-90 21.0 836.5)">Backscattered power (dB)</text>
<text x="327.5" y="1113.0" font-size="25" text-anchor="middle" textLength="206.0" lengthAdjust="spacingAndGlyphs" fill="#111">Fibre length (km)</text>
<rect x="741" y="24.5" width="698.4000000000001" height="587.3" fill="#fff"/>
<g stroke="#8e8e8e" stroke-width="1.05"><line x1="935.0" y1="24.5" x2="935.0" y2="611.8"/><line x1="1129.0" y1="24.5" x2="1129.0" y2="611.8"/><line x1="1323.0" y1="24.5" x2="1323.0" y2="611.8"/><line x1="741" y1="110.9" x2="1439.4" y2="110.9"/><line x1="741" y1="344.5" x2="1439.4" y2="344.5"/><line x1="741" y1="435.4" x2="1439.4" y2="435.4"/><line x1="741" y1="548.1" x2="1439.4" y2="548.1"/></g><g stroke="#cdcdcd" stroke-width="1.2" stroke-dasharray="1.6 4.2"><line x1="744" y1="64.4" x2="1439.4" y2="64.4"/><line x1="744" y1="167.8" x2="1439.4" y2="167.8"/><line x1="744" y1="241.1" x2="1439.4" y2="241.1"/><line x1="744" y1="521.2" x2="1439.4" y2="521.2"/><line x1="744" y1="578.1" x2="1439.4" y2="578.1"/></g>
<defs><clipPath id="cclip"><rect x="741" y="24.5" width="698.4000000000001" height="587.3"/></clipPath></defs>
<g clip-path="url(#cclip)" fill="none" stroke-linejoin="round">
<polygon points="741.0,80.0 742.5,89.1 744.0,97.2 745.5,103.9 747.0,109.8 748.5,116.2 750.0,128.6 751.5,141.6 753.0,154.3 754.5,165.8 756.0,176.8 757.5,188.6 759.0,198.2 760.5,205.8 762.0,211.7 763.5,213.1 765.0,215.5 766.5,225.7 768.0,238.4 769.5,246.7 771.0,253.5 772.5,259.7 774.0,266.4 775.5,272.8 777.0,279.1 778.5,284.1 780.0,289.9 781.5,294.8 783.0,298.7 784.5,304.2 786.0,308.3 787.5,316.3 789.0,323.1 790.5,330.1 792.0,335.1 793.5,339.1 795.0,343.0 796.5,347.2 798.0,351.5 799.5,355.2 801.0,358.4 802.5,360.6 804.0,363.4 805.5,366.9 807.0,369.0 808.5,372.3 810.0,376.4 811.5,379.3 813.0,382.6 814.5,386.2 816.0,389.8 817.5,393.8 819.0,396.5 820.5,398.5 822.0,401.6 823.5,403.3 825.0,406.1 826.5,407.9 828.0,411.0 829.5,412.9 831.0,414.8 832.5,417.2 834.0,419.3 835.5,421.6 837.0,423.3 838.5,425.2 840.0,427.7 841.5,429.8 843.0,432.1 844.5,433.3 846.0,435.0 847.5,435.6 849.0,436.8 850.5,437.5 852.0,438.9 853.5,439.5 855.0,440.1 856.5,441.0 858.0,442.8 859.5,443.3 861.0,444.8 862.5,444.2 864.0,442.9 865.5,442.5 867.0,441.4 868.5,440.4 870.0,438.8 871.5,437.8 873.0,435.8 874.5,434.8 876.0,433.8 877.5,433.2 879.0,430.0 880.5,428.3 882.0,425.4 883.5,418.5 885.0,407.7 886.5,399.5 888.0,392.6 889.5,386.2 891.0,377.8 892.5,367.4 894.0,354.6 895.5,337.9 897.0,305.5 898.5,166.3 900.0,83.6 901.5,83.3 903.0,175.2 904.5,243.6 906.0,269.3 907.5,269.3 909.0,270.1 910.5,268.0 912.0,270.0 913.5,272.6 915.0,268.4 916.5,265.5 918.0,265.2 919.5,284.3 921.0,302.0 922.5,315.9 924.0,326.9 925.5,337.4 927.0,343.5 928.5,337.3 930.0,321.4 931.5,341.5 933.0,371.9 934.5,347.3 936.0,364.8 937.5,384.2 939.0,365.8 940.5,377.6 942.0,389.3 943.5,395.6 945.0,406.3 946.5,413.1 948.0,398.8 949.5,411.6 951.0,430.9 952.5,422.7 954.0,410.9 955.5,431.2 957.0,440.7 958.5,432.5 960.0,430.5 961.5,444.0 963.0,424.7 964.5,391.6 966.0,361.6 967.5,387.4 969.0,421.1 970.5,424.7 972.0,419.5 973.5,428.1 975.0,439.2 976.5,449.9 978.0,452.3 979.5,443.1 981.0,459.6 982.5,463.4 984.0,464.1 985.5,489.4 987.0,490.6 988.5,495.4 990.0,496.8 991.5,498.4 993.0,494.3 994.5,491.8 996.0,493.9 997.5,495.3 999.0,489.0 1000.5,483.6 1002.0,478.6 1003.5,479.0 1005.0,488.8 1006.5,502.3 1008.0,498.9 1009.5,491.3 1011.0,489.9 1012.5,491.7 1014.0,502.4 1015.5,504.7 1017.0,501.8 1018.5,500.4 1020.0,505.2 1021.5,506.3 1023.0,507.8 1024.5,509.6 1026.0,511.7 1027.5,513.0 1029.0,513.0 1030.5,515.4 1032.0,515.8 1033.5,516.3 1035.0,516.4 1036.5,518.1 1038.0,518.9 1039.5,519.1 1041.0,519.5 1042.5,519.4 1044.0,519.7 1045.5,520.4 1047.0,519.7 1048.5,519.0 1050.0,519.8 1051.5,517.5 1053.0,517.4 1054.5,516.9 1056.0,517.4 1057.5,516.8 1059.0,515.4 1060.5,515.1 1062.0,513.0 1063.5,511.3 1065.0,508.5 1066.5,512.2 1068.0,516.0 1069.5,515.8 1071.0,515.6 1072.5,516.9 1074.0,516.8 1075.5,518.3 1077.0,520.7 1078.5,522.2 1080.0,523.1 1081.5,523.1 1083.0,522.3 1084.5,521.2 1086.0,521.6 1087.5,521.2 1089.0,522.0 1090.5,519.6 1092.0,520.4 1093.5,518.6 1095.0,518.8 1096.5,517.1 1098.0,511.7 1099.5,489.2 1101.0,478.3 1102.5,487.1 1104.0,495.6 1105.5,500.1 1107.0,487.3 1108.5,491.1 1110.0,494.1 1111.5,501.4 1113.0,508.1 1114.5,511.8 1116.0,511.9 1117.5,512.0 1119.0,512.1 1120.5,513.7 1122.0,513.2 1123.5,511.2 1125.0,506.8 1126.5,502.2 1128.0,491.2 1129.5,479.7 1131.0,476.5 1132.5,473.1 1134.0,483.6 1135.5,472.4 1137.0,472.7 1138.5,476.6 1140.0,484.1 1141.5,491.2 1143.0,497.0 1144.5,500.8 1146.0,501.8 1147.5,503.4 1149.0,504.9 1150.5,505.2 1152.0,505.1 1153.5,505.2 1155.0,505.0 1156.5,504.3 1158.0,503.7 1159.5,502.1 1161.0,500.7 1162.5,501.3 1164.0,498.6 1165.5,496.5 1167.0,496.9 1168.5,495.3 1170.0,493.2 1171.5,494.5 1173.0,493.2 1174.5,492.6 1176.0,490.8 1177.5,489.5 1177.5,499.1 1176.0,504.9 1174.5,512.5 1173.0,521.8 1171.5,521.5 1170.0,523.6 1168.5,531.2 1167.0,531.1 1165.5,534.6 1164.0,531.2 1162.5,536.5 1161.0,533.7 1159.5,538.1 1158.0,538.5 1156.5,540.6 1155.0,540.5 1153.5,542.4 1152.0,541.1 1150.5,543.9 1149.0,542.7 1147.5,540.0 1146.0,542.1 1144.5,536.9 1143.0,539.8 1141.5,537.8 1140.0,521.7 1138.5,511.0 1137.0,509.5 1135.5,507.5 1134.0,519.3 1132.5,508.8 1131.0,513.5 1129.5,507.7 1128.0,519.1 1126.5,538.3 1125.0,544.2 1123.5,551.8 1122.0,555.7 1120.5,554.7 1119.0,562.1 1117.5,556.8 1116.0,559.2 1114.5,549.5 1113.0,544.8 1111.5,535.9 1110.0,524.8 1108.5,522.1 1107.0,514.7 1105.5,528.3 1104.0,523.3 1102.5,516.7 1101.0,513.9 1099.5,514.4 1098.0,532.9 1096.5,548.1 1095.0,564.2 1093.5,565.1 1092.0,565.5 1090.5,563.6 1089.0,568.5 1087.5,568.3 1086.0,566.2 1084.5,567.5 1083.0,571.4 1081.5,566.8 1080.0,571.5 1078.5,571.3 1077.0,570.9 1075.5,570.0 1074.0,569.9 1072.5,569.7 1071.0,566.4 1069.5,566.2 1068.0,568.0 1066.5,565.5 1065.0,563.9 1063.5,563.8 1062.0,573.1 1060.5,567.2 1059.0,576.6 1057.5,571.1 1056.0,571.7 1054.5,570.2 1053.0,575.4 1051.5,574.3 1050.0,575.6 1048.5,576.5 1047.0,574.1 1045.5,574.3 1044.0,573.8 1042.5,570.5 1041.0,570.1 1039.5,572.7 1038.0,572.5 1036.5,571.3 1035.0,571.0 1033.5,570.4 1032.0,566.4 1030.5,566.8 1029.0,571.5 1027.5,563.4 1026.0,561.1 1024.5,559.1 1023.0,560.4 1021.5,560.4 1020.0,561.9 1018.5,556.1 1017.0,558.7 1015.5,562.4 1014.0,557.6 1012.5,547.3 1011.0,546.6 1009.5,543.8 1008.0,560.3 1006.5,556.8 1005.0,544.4 1003.5,538.2 1002.0,534.1 1000.5,540.6 999.0,546.3 997.5,550.6 996.0,548.4 994.5,546.6 993.0,549.8 991.5,553.7 990.0,548.5 988.5,547.5 987.0,543.3 985.5,539.0 984.0,515.0 982.5,510.7 981.0,497.8 979.5,478.1 978.0,481.5 976.5,476.8 975.0,464.8 973.5,450.9 972.0,444.2 970.5,447.7 969.0,439.5 967.5,402.9 966.0,375.1 964.5,403.8 963.0,439.9 961.5,465.1 960.0,458.9 958.5,462.9 957.0,475.1 955.5,466.7 954.0,441.6 952.5,455.6 951.0,464.8 949.5,446.5 948.0,432.4 946.5,446.8 945.0,437.7 943.5,429.2 942.0,422.6 940.5,406.6 939.0,405.0 937.5,415.9 936.0,396.1 934.5,381.4 933.0,402.7 931.5,371.0 930.0,348.6 928.5,360.8 927.0,368.8 925.5,356.4 924.0,343.4 922.5,328.0 921.0,315.4 919.5,301.2 918.0,285.5 916.5,290.3 915.0,294.1 913.5,298.3 912.0,296.5 910.5,294.2 909.0,293.0 907.5,286.4 906.0,281.1 904.5,252.8 903.0,183.6 901.5,91.4 900.0,91.4 898.5,172.7 897.0,311.2 895.5,346.4 894.0,364.1 892.5,382.5 891.0,396.6 889.5,409.0 888.0,420.2 886.5,431.1 885.0,442.8 883.5,456.2 882.0,465.4 880.5,471.3 879.0,476.0 877.5,481.1 876.0,483.8 874.5,486.5 873.0,488.3 871.5,489.8 870.0,490.8 868.5,492.4 867.0,493.0 865.5,494.2 864.0,494.6 862.5,496.3 861.0,496.2 859.5,494.1 858.0,492.7 856.5,490.7 855.0,487.3 853.5,486.2 852.0,484.6 850.5,483.3 849.0,480.4 847.5,479.1 846.0,476.9 844.5,475.3 843.0,473.0 841.5,470.9 840.0,469.6 838.5,466.4 837.0,465.0 835.5,462.1 834.0,460.7 832.5,458.3 831.0,456.3 829.5,452.4 828.0,450.7 826.5,448.7 825.0,446.2 823.5,442.5 822.0,440.9 820.5,437.4 819.0,435.9 817.5,432.1 816.0,428.4 814.5,425.1 813.0,421.4 811.5,417.0 810.0,413.8 808.5,410.1 807.0,407.9 805.5,404.3 804.0,400.9 802.5,398.7 801.0,395.5 799.5,391.3 798.0,385.6 796.5,379.2 795.0,372.7 793.5,365.6 792.0,358.5 790.5,351.6 789.0,343.6 787.5,336.0 786.0,327.5 784.5,321.8 783.0,316.8 781.5,310.9 780.0,305.4 778.5,299.4 777.0,293.8 775.5,286.2 774.0,279.4 772.5,272.0 771.0,265.5 769.5,258.3 768.0,249.7 766.5,242.8 765.0,239.6 763.5,238.9 762.0,230.8 760.5,217.6 759.0,206.9 757.5,196.2 756.0,184.3 754.5,173.5 753.0,161.8 751.5,147.5 750.0,135.8 748.5,122.1 747.0,115.5 745.5,109.0 744.0,101.7 742.5,92.4 741.0,83.5" fill="#9ccb9a" stroke="none"/>
<polyline points="753.6,162.0 758.1,196.9 762.7,225.0 765.4,227.7 770.2,255.8 778.2,290.7 786.3,318.8 790.3,340.2 799.1,372.3" stroke="#9ccb9a" stroke-width="8.5" stroke-linecap="round"/>
<polyline points="882.7,442.0 885.4,420.6 890.2,393.8 893.4,367.0 896.1,335.0" stroke="#9ccb9a" stroke-width="8.5" stroke-linecap="round"/>
<polyline points="907.0,276.0 909.2,281.3 911.0,279.0 913.3,285.4 915.5,279.0 918.1,274.1 919.5,291.6 922.6,322.4 925.7,347.0 927.7,355.3 930.4,326.5 931.8,357.3 933.3,388.1 934.9,347.0 937.0,400.4 939.0,375.8 942.1,400.4 944.1,408.6 946.2,427.1 948.3,406.6 951.3,445.6 953.8,418.9 956.5,453.8 959.5,435.3 961.6,451.8" stroke="#9ccb9a" stroke-width="11" stroke-linecap="round"/>
<polyline points="968.8,427.1 969.8,435.3 972.3,428.2 974.5,445.2 977.5,466.8 979.5,453.0 981.4,476.6 983.8,474.6 985.3,504.1 988.3,515.9" stroke="#9ccb9a" stroke-width="11" stroke-linecap="round"/>
<line x1="900.7" y1="57" x2="900.7" y2="90" stroke="#9ccb9a" stroke-width="1.3"/>
<line x1="965.3" y1="331" x2="965.3" y2="360" stroke="#b5b5b5" stroke-width="1"/>
<polyline points="740.7,79.5 744.7,103.0 748.2,116.5 748.5,118.3 748.7,121.3 749.0,123.5 749.3,125.6 749.6,127.5 749.8,130.6 750.1,132.9 750.4,134.7 750.6,137.0 750.9,138.9 751.2,140.8 751.4,143.6 751.7,146.2 752.0,147.7 752.2,151.0 752.5,152.5 752.8,154.8 753.1,156.8 753.3,160.4 753.6,162.0 753.9,164.7 754.2,167.2 754.5,169.1 754.8,170.7 755.1,173.4 755.4,176.0 755.7,177.7 756.0,181.2 756.3,182.8 756.6,184.8 756.9,188.0 757.2,189.4 757.5,192.8 757.8,194.5 758.1,196.9 758.5,199.3 758.9,201.4 759.2,203.9 759.6,205.8 760.0,208.0 760.4,211.5 760.8,212.9 761.2,216.0 761.6,217.6 761.9,221.0 762.3,223.2 762.7,225.0 765.4,227.7 765.8,230.4 766.2,232.8 766.6,234.8 767.0,237.4 767.4,238.9 767.8,241.7 768.2,244.5 768.6,246.0 769.0,249.4 769.4,251.7 769.8,253.3 770.2,255.8 770.7,257.8 771.2,260.1 771.7,262.2 772.2,265.2 772.7,266.5 773.2,268.2 773.7,270.5 774.2,273.6 774.7,276.1 775.2,277.6 775.7,279.8 776.2,282.0 776.7,284.5 777.2,285.9 777.7,288.7 778.2,290.7 778.8,292.9 779.4,295.2 780.1,296.7 780.7,298.9 781.3,301.3 781.9,304.3 782.6,305.6 783.2,308.1 783.8,309.9 784.4,311.8 785.1,313.9 785.7,317.1 786.3,318.8 786.7,321.6 787.2,323.4 787.6,326.2 788.1,328.6 788.5,331.2 789.0,333.7 789.4,335.3 789.9,338.5 790.3,340.2 790.9,343.0 791.5,344.6 792.1,347.2 792.6,348.7 793.2,350.7 793.8,352.7 794.4,355.7 795.0,356.8 795.6,358.9 796.2,362.0 796.8,364.1 797.3,365.9 797.9,368.5 798.5,369.5 799.1,372.3 800.2,374.0 801.2,376.0 802.3,378.2 803.4,379.9 804.5,381.8 805.6,384.1 806.6,386.9 807.7,388.4 808.7,391.3 809.6,393.1 810.6,394.9 811.6,396.8 812.6,400.0 813.5,401.6 814.5,404.1 815.5,405.3 816.5,407.7 817.4,410.8 818.4,412.5 819.6,414.9 820.8,416.9 822.1,418.5 823.3,420.2 824.5,422.4 825.7,424.7 826.9,425.9 828.1,428.2 829.4,429.8 830.6,432.4 831.8,434.0 833.1,435.2 834.5,438.0 835.8,440.2 837.2,440.8 838.5,443.5 839.8,445.4 841.2,447.6 842.5,449.1 843.9,450.5 845.2,452.7 846.8,454.2 848.4,456.6 850.1,458.1 851.7,458.7 853.3,460.8 854.9,462.1 856.5,464.0 858.1,465.8 859.7,468.2 861.3,470.2 863.3,468.1 865.3,467.6 867.3,465.8 869.3,464.0 870.9,461.8 872.5,460.6 874.2,458.6 875.8,457.1 877.4,455.4 878.3,452.8 879.2,450.5 880.0,448.3 880.9,446.3 881.8,444.5 882.7,442.0 883.0,439.7 883.3,436.6 883.6,435.2 883.9,433.0 884.2,430.5 884.5,428.1 884.8,424.7 885.1,422.9 885.4,420.6 885.8,417.8 886.2,416.5 886.6,413.4 887.0,412.0 887.4,409.1 887.8,407.5 888.2,404.7 888.6,402.1 889.0,400.3 889.4,398.0 889.8,396.6 890.2,393.8 890.5,391.3 890.7,389.3 891.0,387.2 891.3,385.5 891.5,382.1 891.8,380.5 892.1,378.2 892.3,376.3 892.6,374.4 892.9,371.2 893.1,369.5 893.4,367.0 893.6,364.8 893.8,362.5 894.0,359.5 894.2,358.3 894.4,356.2 894.6,353.1 894.8,350.7 894.9,349.4 895.1,345.9 895.3,343.5 895.5,341.3 895.7,340.0 895.9,337.6 896.1,335.0 897.3,300.0 898.3,180.8 899.9,87.0 901.5,87.0 902.8,170.0 904.1,230.0 905.1,273.1 907.0,276.0 909.2,281.3 911.0,279.0 913.3,285.4 915.5,279.0 918.1,274.1 919.5,291.6 922.6,322.4 925.7,347.0 927.7,355.3 930.4,326.5 931.8,357.3 933.3,388.1 934.9,347.0 937.0,400.4 939.0,375.8 942.1,400.4 944.1,408.6 946.2,427.1 948.3,406.6 951.3,445.6 953.8,418.9 956.5,453.8 959.5,435.3 961.6,451.8 964.1,414.8 965.3,359.4 966.7,373.7 968.8,427.1 969.8,435.3 972.3,428.2 974.5,445.2 977.5,466.8 979.5,453.0 981.4,476.6 983.8,474.6 985.3,504.1 985.9,506.3 986.5,509.1 987.1,510.0 987.7,513.9 988.3,515.9 989.3,518.4 990.2,521.1 991.2,523.7 992.0,521.0 992.7,518.6 993.5,515.7 994.2,513.9 995.7,514.8 997.1,517.8 997.6,515.4 998.1,512.6 998.6,511.4 999.1,509.4 999.6,506.9 1000.1,504.1 1001.1,501.7 1002.0,498.9 1003.0,497.2 1003.3,499.3 1003.7,501.9 1004.0,504.7 1004.4,507.9 1004.7,508.1 1005.1,511.5 1005.4,513.9 1005.6,516.1 1005.9,518.9 1006.1,521.6 1006.3,523.5 1006.5,525.4 1006.8,528.0 1007.0,529.6 1007.3,527.8 1007.5,526.0 1007.8,523.3 1008.1,521.1 1008.4,517.8 1008.6,517.1 1008.9,513.9 1011.9,511.9 1012.2,513.8 1012.5,516.6 1012.9,519.2 1013.2,521.8 1013.5,524.0 1013.8,523.8 1014.2,526.8 1014.5,529.0 1014.8,531.6 1015.8,528.7 1016.8,525.5 1017.8,523.7 1019.2,526.8 1020.7,529.6 1022.6,530.5 1024.6,533.5 1026.6,535.0 1028.6,537.5 1030.5,539.9 1032.5,540.7 1034.4,541.4 1036.4,542.3 1038.3,542.4 1040.3,545.4 1042.3,545.3 1044.9,546.1 1047.6,545.3 1050.2,546.3 1052.2,544.7 1054.1,544.2 1056.0,543.1 1058.0,541.4 1061.9,539.4 1062.9,536.9 1063.9,536.5 1064.9,533.5 1065.9,535.4 1066.8,537.5 1067.8,540.4 1070.8,541.7 1073.7,541.4 1075.7,542.2 1077.6,545.1 1079.6,546.3 1082.2,544.6 1084.9,544.6 1087.5,543.4 1090.1,541.5 1092.7,540.4 1095.3,539.4 1095.7,538.1 1096.1,534.6 1096.5,532.2 1096.9,530.3 1097.3,527.7 1097.5,524.8 1097.7,522.3 1097.8,520.4 1098.0,517.8 1098.2,515.3 1098.4,514.8 1098.6,510.3 1098.8,509.8 1098.9,507.8 1099.1,504.9 1099.3,502.1 1099.7,498.5 1100.0,497.2 1100.4,493.6 1100.8,492.3 1101.3,494.9 1101.8,497.5 1102.2,498.8 1102.7,500.6 1103.2,504.1 1103.5,506.5 1103.8,507.7 1104.2,510.5 1104.5,513.1 1104.8,516.5 1105.1,517.8 1105.4,515.2 1105.7,512.4 1106.0,511.8 1106.2,509.6 1106.5,506.7 1106.8,503.3 1107.1,502.1 1108.1,504.0 1109.1,507.1 1110.1,510.0 1110.5,512.4 1110.9,513.8 1111.3,517.5 1111.8,519.8 1112.2,522.2 1112.6,524.4 1113.0,525.7 1114.0,527.1 1114.9,531.1 1115.9,533.5 1117.9,533.5 1119.9,535.5 1121.8,534.5 1123.8,531.6 1124.3,529.9 1124.8,527.6 1125.3,524.0 1125.8,521.3 1126.3,520.9 1126.8,517.8 1127.0,515.6 1127.3,513.2 1127.5,510.4 1127.8,508.7 1128.0,505.2 1128.2,502.5 1128.5,500.3 1128.7,498.2 1129.2,495.0 1129.7,493.1 1130.2,491.0 1130.7,487.4 1131.3,488.7 1132.0,491.0 1132.6,494.3 1132.8,496.5 1132.9,499.1 1133.1,500.2 1133.3,502.5 1133.5,504.2 1133.7,506.4 1133.8,509.7 1134.0,511.9 1134.2,510.1 1134.4,507.9 1134.6,504.5 1134.8,502.1 1135.0,501.9 1135.2,498.8 1135.4,496.3 1135.6,494.3 1136.4,492.5 1137.1,490.2 1137.9,487.4 1138.3,489.6 1138.8,490.7 1139.2,494.7 1139.7,495.4 1140.1,498.2 1140.6,499.4 1141.2,502.4 1141.8,505.1 1142.3,507.6 1142.9,508.8 1143.4,511.9 1144.4,514.7 1145.4,516.5 1146.4,518.8 1148.3,519.9 1150.3,522.7 1153.2,522.6 1156.2,520.8 1158.2,520.2 1160.1,519.1 1162.1,516.8 1163.6,515.5 1165.0,512.7 1166.5,512.4 1168.0,510.0 1170.0,509.0 1171.9,506.1 1173.9,504.1 1174.9,502.6 1175.8,500.3 1176.8,496.5 1177.8,494.3" stroke="#142a82" stroke-width="5.1"/>
<polyline points="1176.4,492.0 1176.9,488.7 1177.5,485.2 1178.0,481.3 1178.5,480.3 1179.1,474.5 1179.6,472.8 1180.7,475.6 1181.8,479.7 1182.9,481.3 1183.4,483.2 1184.0,487.8 1184.5,491.2 1185.0,494.0 1186.1,495.5 1187.1,499.4 1188.2,502.7 1188.5,500.3 1188.8,496.6 1189.2,494.4 1189.5,489.7 1189.8,487.0 1190.1,483.6 1190.4,481.8 1190.8,480.1 1191.1,476.1 1191.4,472.8 1191.6,470.5 1191.7,466.2 1191.9,464.1 1192.1,459.0 1192.3,456.4 1192.4,454.4 1192.6,451.5 1192.8,447.4 1193.0,443.2 1193.1,440.6 1193.3,437.3 1193.5,434.4 1193.7,432.8 1193.8,427.8 1194.0,425.6 1194.2,430.0 1194.4,433.2 1194.6,433.9 1194.8,438.1 1195.1,441.6 1195.3,443.4 1195.5,447.9 1195.7,451.3 1195.9,455.9 1196.2,456.9 1196.4,461.7 1196.7,463.6 1196.9,468.4 1197.2,472.7 1197.4,474.9 1197.8,471.0 1198.1,467.3 1198.5,464.5 1198.9,462.8 1199.3,458.2 1199.6,455.3 1200.0,453.5 1200.6,456.9 1201.3,461.6 1201.9,463.5 1202.6,466.9 1203.2,470.6 1203.8,468.0 1204.4,463.3 1205.0,461.7 1205.6,457.5 1206.2,455.8 1206.8,452.4 1207.1,457.0 1207.4,457.5 1207.7,462.2 1208.0,465.6 1208.4,467.4 1208.7,471.0 1209.0,476.4 1209.3,479.6 1209.6,481.3 1210.0,476.7 1210.5,475.1 1210.9,472.4 1211.4,466.8 1211.8,464.2 1212.2,468.0 1212.6,469.7 1213.1,474.1 1213.5,478.4 1213.9,481.3 1214.4,478.4 1215.0,475.7 1215.5,470.5 1216.0,468.5 1217.7,471.2 1219.3,474.9 1219.7,473.0 1220.1,469.2 1220.6,465.8 1221.0,462.6 1221.4,459.9 1223.0,464.6 1224.6,466.3 1225.0,463.5 1225.5,458.9 1225.9,458.2 1226.4,453.8 1226.8,451.3 1228.9,449.2 1229.5,452.4 1230.2,455.2 1230.8,459.3 1231.5,462.4 1232.1,466.3 1232.5,462.1 1233.0,460.7 1233.4,456.1 1233.9,455.2 1234.3,451.3 1234.8,453.1 1235.3,458.6 1235.9,461.9 1236.4,464.2 1236.9,460.8 1237.4,458.0 1238.0,453.2 1238.5,451.2 1239.0,447.1 1239.5,443.4 1240.1,439.4 1240.6,438.2 1241.2,433.0 1241.7,429.9 1242.0,426.5 1242.4,425.0 1242.7,420.5 1243.0,418.4 1243.3,413.9 1243.7,412.9 1244.0,408.2 1244.3,404.6 1244.7,404.3 1245.0,399.9 1245.5,395.7 1246.1,394.8 1246.6,391.8 1247.1,387.4 1247.7,382.4 1248.2,380.7 1248.8,383.3 1249.3,387.6 1249.9,392.4 1250.0,389.1 1250.1,386.7 1250.2,384.8 1250.3,379.9 1250.4,376.3 1250.5,374.5 1250.6,370.3 1250.7,367.1 1250.7,365.5 1250.8,362.9 1250.9,358.0 1251.0,356.2 1251.1,353.9 1251.2,351.1 1251.3,347.0 1251.4,344.3 1253.5,365.7 1254.3,300.0 1255.0,232.5 1255.9,330.0 1256.7,200.0 1257.5,334.0 1258.4,173.8 1259.4,337.0 1260.4,150.0 1261.5,342.0 1262.6,127.5 1264.8,348.0 1267.0,103.8 1269.5,356.0 1272.0,88.8 1274.5,362.0 1277.0,95.0 1279.7,366.0 1282.3,122.5 1284.5,385.0 1286.0,392.0 1287.0,398.9 1288.5,388.0 1290.1,393.0 1291.5,383.7 1294.7,118.0 1297.9,377.6 1301.6,96.7 1305.1,365.5 1308.3,89.1 1312.0,357.9 1315.9,102.8 1320.3,350.3 1324.1,134.7 1328.3,332.0 1332.6,157.4 1337.0,313.8 1341.1,168.1 1346.2,315.3 1350.8,203.0 1353.9,292.6 1356.3,208.8 1356.7,213.1 1357.1,214.0 1357.5,218.8 1358.0,222.1 1358.4,225.5 1358.8,227.5 1359.0,224.2 1359.3,219.8 1359.5,216.4 1359.8,214.6 1360.0,210.3 1360.3,208.4 1360.5,203.5 1360.8,202.3 1361.0,197.4 1361.3,195.0 1361.5,196.5 1361.8,200.0 1362.0,203.9 1362.2,207.2 1362.4,209.7 1362.6,212.0 1362.9,215.9 1363.1,220.3 1363.3,222.1 1363.5,226.3 1363.8,226.6 1364.0,232.5 1364.2,235.2 1364.5,237.1 1364.7,240.1 1364.9,243.1 1365.1,247.2 1365.3,247.7 1365.6,252.4 1365.8,255.0 1365.9,252.0 1366.1,248.2 1366.2,246.4 1366.4,243.3 1366.5,238.3 1366.7,237.0 1366.8,233.2 1367.0,230.2 1367.1,227.5 1367.3,222.7 1367.4,221.2 1367.6,217.4 1367.7,215.8 1367.9,210.8 1368.0,209.5 1368.2,206.1 1368.3,202.7 1368.5,200.3 1368.6,194.7 1368.8,193.3 1368.9,190.2 1369.1,187.3 1369.2,183.4 1369.4,179.3 1369.5,177.5 1369.7,179.6 1369.9,183.9 1370.1,185.6 1370.3,188.3 1370.5,192.2 1370.7,195.6 1370.9,198.8 1371.1,200.3 1371.3,205.6 1371.5,207.3 1371.7,211.6 1371.9,212.3 1372.1,218.2 1372.3,220.1 1372.5,224.3 1372.7,227.4 1372.9,229.9 1373.1,230.8 1373.3,235.0 1373.6,231.4 1373.8,227.8 1374.1,226.3 1374.4,221.3 1374.7,218.3 1374.9,214.7 1375.2,211.6 1375.5,210.9 1375.8,207.8 1376.0,202.8 1376.3,200.0 1376.7,203.9 1377.0,206.3 1377.4,209.7 1377.7,212.5 1378.1,216.5 1378.4,218.5 1378.8,222.5 1379.0,218.7 1379.2,216.4 1379.3,212.3 1379.5,210.0 1379.7,208.4 1379.9,202.5 1380.0,199.7 1380.2,198.7 1380.4,193.4 1380.6,190.9 1380.7,189.6 1380.9,185.8 1381.1,181.5 1381.3,177.9 1381.4,175.5 1381.6,172.5 1381.8,170.0 1381.9,174.1 1382.1,177.8 1382.2,180.4 1382.3,183.9 1382.5,187.1 1382.6,190.1 1382.7,193.4 1382.9,196.7 1383.0,197.3 1383.1,201.1 1383.3,204.1 1383.4,208.3 1383.5,211.1 1383.7,213.9 1383.8,217.5 1385.0,214.8 1386.3,210.0 1386.5,206.7 1386.6,203.1 1386.8,200.3 1386.9,197.9 1387.1,195.3 1387.3,192.2 1387.4,188.8 1387.6,185.1 1387.7,182.7 1387.9,179.5 1388.1,176.0 1388.2,174.1 1388.4,170.1 1388.5,168.6 1388.7,165.5 1388.9,160.9 1389.0,159.4 1389.2,155.5 1389.3,152.8 1389.5,150.0 1390.1,147.0 1390.7,144.1 1391.2,141.2 1391.8,137.4 1392.4,132.5 1393.0,130.0 1393.4,133.6 1393.8,136.5 1394.2,139.1 1394.6,144.2 1395.0,147.5 1395.3,144.4 1395.6,142.5 1395.9,137.9 1396.1,136.4 1396.4,132.4 1396.7,128.1 1397.0,126.3 1397.2,130.1 1397.5,131.9 1397.7,135.8 1397.9,137.5 1398.2,140.4 1398.4,146.3 1398.6,146.8 1398.8,150.2 1399.1,153.4 1399.3,157.5 1399.6,153.2 1399.8,152.2 1400.1,149.6 1400.4,145.4 1400.6,141.6 1400.9,139.9 1401.2,135.6 1401.4,131.4 1401.7,129.9 1402.0,125.8 1402.2,122.4 1402.5,120.0 1403.1,116.3 1403.8,113.4 1404.4,109.7 1405.0,107.5 1405.4,111.1 1405.9,115.0 1406.3,117.4 1406.7,118.9 1407.1,124.1 1407.6,125.3 1408.0,130.0 1408.3,126.9 1408.6,125.1 1408.9,121.5 1409.2,119.2 1409.5,115.8 1409.8,111.3 1410.1,107.9 1410.4,105.9 1410.7,103.5 1411.0,99.2 1411.3,96.5 1411.6,94.7 1411.9,90.5 1412.2,88.3 1412.5,85.0 1412.7,88.3 1412.9,92.6 1413.2,93.1 1413.4,96.7 1413.6,101.7 1413.8,104.5 1414.0,106.0 1414.3,109.2 1414.5,112.6 1414.7,116.8 1414.9,121.0 1415.1,122.1 1415.4,125.3 1415.6,129.9 1415.8,132.5 1416.0,129.3 1416.2,127.5 1416.4,125.0 1416.6,121.8 1416.8,118.1 1417.0,114.4 1417.2,110.1 1417.4,109.3 1417.7,105.1 1417.9,102.3 1418.1,99.8 1418.3,97.8 1418.5,93.5 1418.7,91.6 1418.9,88.7 1419.1,83.1 1419.3,81.3 1419.6,84.1 1420.0,89.0 1420.3,91.9 1420.7,95.8 1421.0,96.7 1421.3,101.0 1421.7,105.5 1422.0,107.5 1422.2,104.5 1422.3,101.8 1422.5,99.6 1422.6,94.1 1422.8,90.7 1422.9,90.0 1423.1,86.1 1423.2,81.8 1423.4,80.6 1423.5,75.9 1423.7,72.3 1423.8,69.7 1424.0,65.9 1424.1,63.9 1424.3,61.9 1424.4,57.8 1424.6,56.3 1424.7,50.4 1424.9,47.7 1425.0,44.5 1425.2,42.7 1425.3,38.5 1425.5,36.3 1425.6,39.9 1425.8,42.6 1425.9,45.9 1426.1,49.8 1426.2,52.8 1426.3,56.3 1426.5,57.1 1426.6,60.9 1426.8,65.8 1426.9,67.2 1427.0,70.0 1427.2,73.7 1427.3,75.9 1427.4,81.1 1427.6,83.5 1427.7,85.0 1427.9,90.8 1428.0,92.5 1428.2,89.4 1428.4,85.4 1428.7,83.3 1428.9,81.2 1429.1,76.2 1429.3,72.0 1429.5,69.4 1429.8,65.8 1430.0,64.1 1430.2,60.3 1430.4,58.7 1430.6,53.6 1430.9,49.9 1431.1,48.1 1431.3,45.0 1431.7,40.7 1432.2,38.2 1432.6,34.8 1433.0,32.5 1433.3,34.9 1433.7,39.6 1434.0,43.8 1434.3,45.4 1434.7,49.6 1435.0,52.5 1435.4,48.7 1435.8,47.2 1436.1,42.8 1436.5,38.0 1436.9,36.9 1437.2,32.0 1437.6,28.2 1438.0,26.3 1438.1,28.0 1438.3,33.7 1438.4,36.5 1438.6,38.6 1438.7,42.4 1438.9,46.0 1439.0,47.3 1439.2,52.4 1439.3,55.0" stroke="#3096f2" stroke-width="3.3"/>
</g>
<circle cx="847.4" cy="468.3" r="7.4" fill="none" stroke="#f2060e" stroke-width="5.7"/>
<circle cx="1080.2" cy="534.1" r="7.4" fill="none" stroke="#f2060e" stroke-width="5.7"/>
<rect x="930" y="45" width="313" height="133" fill="#fff"/>
<line x1="939.7" y1="66.5" x2="1017.5" y2="66.5" stroke="#142a82" stroke-width="3.6"/>
<rect x="939.7" y="86" width="77.8" height="21.6" fill="#9ccb9a"/>
<line x1="939.7" y1="127.2" x2="1017.5" y2="127.2" stroke="#3096f2" stroke-width="3.4"/>
<circle cx="978.3" cy="157.5" r="7.4" fill="none" stroke="#f2060e" stroke-width="5.7"/>
<text x="1031.0" y="74.5" font-size="25.5" textLength="207.5" lengthAdjust="spacingAndGlyphs" fill="#111">OSA 1: mean loss</text>
<text x="1031.0" y="104.5" font-size="25.5" textLength="176.0" lengthAdjust="spacingAndGlyphs" fill="#111">OSA 1: 95% CL</text>
<text x="1031.0" y="134.5" font-size="25.5" textLength="75.0" lengthAdjust="spacingAndGlyphs" fill="#111">OSA 2</text>
<text x="1031.0" y="164.5" font-size="25.5" textLength="68.0" lengthAdjust="spacingAndGlyphs" fill="#111">OTDR</text>
<rect x="741" y="24.5" width="698.4000000000001" height="587.3" fill="none" stroke="#222" stroke-width="1.6"/>
<g stroke="#222" stroke-width="1.4"><line x1="935.0" y1="611.8" x2="935.0" y2="603.8"/><line x1="1129.0" y1="611.8" x2="1129.0" y2="603.8"/><line x1="1323.0" y1="611.8" x2="1323.0" y2="603.8"/><line x1="741" y1="110.9" x2="749" y2="110.9"/><line x1="741" y1="344.5" x2="749" y2="344.5"/><line x1="741" y1="435.4" x2="749" y2="435.4"/><line x1="741" y1="548.1" x2="749" y2="548.1"/></g>
<text x="739.5" y="640.3" font-size="23" text-anchor="middle" textLength="57.5" lengthAdjust="spacingAndGlyphs" fill="#111">1,200</text>
<text x="933.5" y="640.3" font-size="23" text-anchor="middle" textLength="57.5" lengthAdjust="spacingAndGlyphs" fill="#111">1,300</text>
<text x="1127.5" y="640.3" font-size="23" text-anchor="middle" textLength="57.5" lengthAdjust="spacingAndGlyphs" fill="#111">1,400</text>
<text x="1321.5" y="640.3" font-size="23" text-anchor="middle" textLength="57.5" lengthAdjust="spacingAndGlyphs" fill="#111">1,500</text>
<text x="727.5" y="116.9" font-size="22.8" text-anchor="end" textLength="49.0" lengthAdjust="spacingAndGlyphs" fill="#111">0.50</text>
<text x="727.5" y="350.5" font-size="22.8" text-anchor="end" textLength="47.5" lengthAdjust="spacingAndGlyphs" fill="#111">0.20</text>
<text x="727.5" y="443.4" font-size="22.8" text-anchor="end" textLength="43.0" lengthAdjust="spacingAndGlyphs" fill="#111">0.14</text>
<text x="727.5" y="554.1" font-size="22.8" text-anchor="end" textLength="49.0" lengthAdjust="spacingAndGlyphs" fill="#111">0.09</text>
<text x="1090.0" y="680.5" font-size="25" text-anchor="middle" textLength="206.0" lengthAdjust="spacingAndGlyphs" fill="#111">Wavelength (nm)</text>
<text x="660.0" y="401.0" font-size="25" textLength="172.0" lengthAdjust="spacingAndGlyphs" fill="#111" transform="rotate(-90 660.0 401.0)">Loss (dB km<tspan dy="-10" font-size="15.5">−1</tspan><tspan dy="10">)</tspan></text>
<rect x="741" y="777.0" width="333.79999999999995" height="265.5999999999999" fill="#fff"/>
<rect x="1093" y="777.0" width="344.5" height="265.5999999999999" fill="#fff"/>
<defs><clipPath id="d1clip"><rect x="741" y="776.6" width="333.8" height="266"/></clipPath><clipPath id="d2clip"><rect x="1093" y="776.6" width="344.5" height="266"/></clipPath></defs>
<g clip-path="url(#d1clip)" fill="none" stroke-linejoin="round">
<polygon points="740.5,760.2 742.6,761.4 744.7,762.5 746.9,763.8 749.0,764.5 751.1,765.9 753.2,765.5 755.3,767.2 757.5,769.0 759.6,769.6 761.7,771.0 763.8,770.8 765.9,772.4 768.0,773.1 770.2,774.6 772.3,775.7 774.4,775.8 776.6,779.2 778.8,782.3 781.0,786.3 783.1,789.1 785.3,791.1 787.5,795.2 789.7,797.1 791.7,799.9 793.8,801.2 795.8,803.0 797.8,806.4 799.9,807.4 801.9,809.4 803.9,812.7 805.9,814.5 808.0,815.6 810.0,818.7 812.1,819.6 814.2,821.4 816.3,822.2 818.4,825.0 820.5,826.2 822.6,828.2 824.6,829.6 826.7,830.2 828.8,831.9 830.9,833.2 833.0,834.7 835.1,836.1 837.2,838.1 839.3,839.6 841.4,839.7 843.5,841.8 845.5,842.3 847.6,843.3 849.7,845.2 851.8,845.7 853.9,846.5 856.0,847.8 858.0,849.2 860.1,849.2 862.2,851.7 864.3,851.2 866.4,853.6 868.5,854.9 870.6,854.7 872.7,857.1 874.8,857.6 876.9,859.1 878.9,859.4 881.0,860.6 883.1,862.0 885.2,864.4 887.3,864.4 889.4,866.4 891.5,867.9 893.5,868.9 895.6,869.0 897.6,870.0 899.6,871.3 901.6,872.7 903.7,872.7 905.7,874.7 907.7,875.8 909.8,877.0 911.8,876.7 913.9,878.6 916.0,877.8 918.1,878.7 920.2,879.7 922.3,880.7 924.4,880.3 926.4,881.7 928.5,881.7 930.6,881.8 932.7,882.3 934.8,882.6 936.9,883.0 939.0,883.6 941.0,885.0 943.1,886.0 945.1,885.2 947.1,885.5 949.1,887.5 951.2,887.3 953.2,887.6 955.2,887.9 957.3,888.9 959.3,889.8 961.3,888.4 963.4,887.5 965.4,886.0 967.5,886.6 969.5,884.3 971.5,884.2 973.6,883.9 975.6,881.9 977.7,882.0 979.7,881.5 981.8,880.4 984.0,880.0 986.1,878.3 988.2,878.1 990.3,877.1 992.5,877.5 994.6,876.0 996.7,875.6 999.0,875.1 1001.2,873.4 1003.5,872.2 1005.7,870.0 1008.0,868.6 1010.2,867.6 1012.5,865.2 1014.7,862.9 1017.0,861.1 1019.3,858.8 1021.5,857.2 1023.8,856.2 1025.8,852.1 1027.9,847.4 1029.9,843.2 1032.0,838.8 1034.0,834.3 1036.0,831.2 1038.1,828.7 1040.1,825.4 1042.2,821.2 1044.2,818.5 1046.3,814.2 1048.5,809.9 1050.6,805.6 1052.7,801.5 1055.0,790.5 1057.2,780.7 1059.5,770.0 1071.3,770.0 1067.9,808.6 1065.3,823.9 1062.8,838.3 1060.5,835.7 1058.3,833.0 1056.0,831.8 1053.5,847.3 1051.0,861.9 1048.9,868.1 1046.8,874.1 1044.6,879.6 1042.5,885.6 1040.2,884.8 1038.0,883.3 1035.7,883.0 1033.6,889.5 1031.5,898.2 1029.3,905.6 1027.2,913.4 1024.7,914.8 1022.1,916.7 1019.7,919.2 1017.3,923.5 1015.0,925.0 1012.6,928.2 1010.2,931.2 1008.1,933.1 1006.0,934.2 1003.9,933.8 1001.8,935.2 999.6,935.1 997.5,937.4 995.4,938.2 993.3,938.1 991.0,938.7 988.8,939.3 986.5,938.7 984.2,939.6 982.0,939.5 979.7,940.2 977.6,941.6 975.5,941.0 973.5,941.7 971.4,942.5 969.3,943.9 967.2,943.2 965.2,944.3 963.1,945.5 961.0,946.1 958.8,944.4 956.7,944.7 954.5,942.7 952.3,941.9 950.1,941.5 948.0,940.7 945.8,940.9 943.8,939.8 941.7,938.2 939.7,938.4 937.6,937.6 935.6,936.1 933.6,935.2 931.5,936.1 929.5,934.5 927.4,934.3 925.4,934.2 923.2,933.6 921.0,932.2 918.8,931.7 916.6,930.2 914.4,930.0 912.2,929.8 910.0,929.5 907.8,928.2 905.7,928.4 903.5,928.2 901.4,927.0 899.3,926.1 897.1,926.0 895.0,924.7 892.8,925.1 890.7,923.6 888.6,923.7 886.4,924.0 884.3,922.3 882.2,922.3 880.0,921.6 877.9,921.3 875.8,919.8 873.7,920.7 871.6,918.7 869.5,918.6 867.4,917.8 865.3,916.6 863.3,916.0 861.2,914.4 859.1,914.0 857.0,913.2 854.9,912.6 852.8,911.5 850.7,910.6 848.6,909.6 846.5,908.7 844.4,906.7 842.4,906.4 840.3,905.2 838.2,903.0 836.1,902.5 834.0,900.8 831.9,899.0 829.9,897.5 827.8,897.4 825.7,896.0 823.6,894.9 821.6,893.1 819.5,891.2 817.5,890.1 815.4,888.4 813.4,887.3 811.4,884.6 809.3,884.1 807.3,882.6 805.2,881.0 803.2,879.1 801.2,877.9 799.1,875.6 797.1,872.4 795.1,871.0 793.0,869.0 791.0,867.7 789.0,865.7 787.0,863.2 784.9,861.5 782.9,859.4 780.9,856.2 778.8,854.6 776.8,852.1 774.7,849.5 772.7,846.6 770.7,845.1 768.6,842.4 766.6,840.3 764.5,837.3 762.5,835.3 760.5,833.0 758.5,832.0 756.5,829.5 754.5,829.0 752.5,827.5 750.5,826.5 748.5,823.8 746.5,823.0 744.5,821.6 742.5,819.5 740.5,817.6" fill="#9ccb9a"/>
</g>
<g clip-path="url(#d2clip)" fill="none" stroke-linejoin="round">
<polygon points="1092.8,968.1 1094.9,967.2 1097.0,967.9 1099.1,967.3 1101.2,967.3 1103.3,967.2 1105.4,966.9 1107.5,966.5 1109.6,966.8 1111.7,966.0 1113.8,965.8 1115.9,966.1 1118.2,966.1 1120.4,966.9 1122.7,968.3 1125.0,968.1 1127.2,969.8 1129.5,970.3 1131.5,970.0 1133.5,969.7 1135.5,970.3 1137.5,970.4 1139.5,969.4 1141.5,969.8 1143.5,969.8 1145.5,969.7 1147.5,969.4 1149.5,969.2 1151.5,969.7 1153.6,969.9 1155.6,968.9 1157.6,969.1 1159.6,969.7 1161.6,969.7 1163.6,969.4 1165.6,968.6 1167.6,969.4 1169.6,969.7 1171.6,969.6 1173.6,969.2 1175.7,968.4 1177.8,969.2 1180.0,968.4 1182.1,968.8 1184.2,969.0 1186.3,968.7 1188.4,967.9 1190.5,968.0 1192.7,968.6 1194.8,967.6 1196.9,968.0 1199.0,967.7 1201.1,967.3 1203.3,967.7 1205.4,967.0 1207.5,966.9 1209.5,967.1 1211.5,966.6 1213.5,966.4 1215.5,966.8 1217.5,966.9 1219.5,966.9 1221.5,965.8 1223.5,966.0 1225.5,965.7 1227.5,965.9 1229.5,965.6 1231.5,965.9 1233.5,965.1 1235.5,964.6 1237.5,965.2 1239.5,964.3 1241.5,964.8 1243.6,964.5 1245.7,964.9 1247.8,964.4 1249.8,964.3 1251.9,963.8 1254.0,964.1 1256.1,963.6 1258.2,964.1 1260.3,963.7 1262.3,963.2 1264.4,963.2 1266.5,963.2 1268.6,963.6 1270.6,962.4 1272.6,962.6 1274.6,962.0 1276.6,960.8 1278.6,961.0 1280.7,959.8 1282.7,959.3 1284.7,959.4 1286.7,958.5 1288.7,958.8 1290.7,957.8 1292.8,958.2 1294.8,959.4 1296.9,959.1 1299.0,960.5 1301.0,960.3 1303.1,961.0 1305.2,962.6 1307.2,962.9 1309.3,963.0 1311.3,963.0 1313.3,964.1 1315.3,963.9 1317.3,964.2 1319.3,963.6 1321.3,964.3 1323.3,964.1 1325.3,964.1 1327.3,964.4 1329.3,964.8 1331.3,964.7 1333.3,964.9 1335.3,964.7 1337.3,965.7 1339.3,965.6 1341.3,965.9 1343.3,965.6 1345.3,966.4 1347.4,966.2 1349.4,966.5 1351.4,966.8 1353.5,967.2 1355.5,967.0 1357.5,966.9 1359.6,967.1 1361.6,967.5 1363.6,967.6 1365.7,968.9 1367.7,968.6 1369.7,969.2 1371.8,968.5 1373.8,969.3 1375.8,970.1 1377.9,970.0 1379.9,970.0 1382.0,970.1 1384.0,969.7 1386.1,969.7 1388.1,969.8 1390.2,970.1 1392.3,970.1 1394.3,970.7 1396.4,969.9 1398.4,970.0 1400.5,970.0 1402.6,969.9 1404.6,970.1 1406.7,970.1 1408.8,970.4 1410.8,969.9 1412.9,971.0 1414.9,970.3 1417.0,971.0 1419.1,970.7 1421.1,970.7 1423.2,970.5 1425.2,971.1 1427.3,970.1 1429.4,970.8 1431.4,970.4 1433.5,970.9 1435.5,971.0 1437.6,970.7 1437.6,1008.1 1435.6,1008.0 1433.5,1008.4 1431.5,1008.1 1429.4,1008.3 1427.4,1008.4 1425.4,1008.7 1423.3,1009.5 1421.3,1009.1 1419.3,1009.4 1417.2,1008.8 1415.2,1010.2 1413.1,1009.0 1411.1,1009.7 1409.0,1010.3 1406.9,1009.4 1404.9,1010.1 1402.8,1010.7 1400.7,1010.2 1398.6,1010.8 1396.5,1010.6 1394.5,1010.3 1392.4,1010.3 1390.3,1010.4 1388.2,1011.1 1386.1,1010.3 1384.1,1010.1 1382.0,1011.1 1379.9,1011.4 1377.7,1010.5 1375.5,1010.6 1373.3,1009.7 1371.1,1010.0 1369.0,1009.1 1366.8,1009.8 1364.6,1009.7 1362.4,1009.1 1360.2,1008.1 1358.1,1008.5 1356.0,1008.5 1353.8,1008.6 1351.7,1008.2 1349.6,1008.7 1347.5,1009.2 1345.4,1009.0 1343.2,1008.3 1341.1,1007.9 1339.0,1007.7 1336.9,1007.7 1334.8,1008.4 1332.7,1008.6 1330.5,1007.6 1328.4,1007.8 1326.3,1008.3 1324.2,1008.3 1322.0,1008.6 1319.9,1009.0 1317.8,1009.6 1315.7,1010.4 1313.5,1011.5 1311.4,1011.3 1309.3,1012.4 1307.0,1011.5 1304.8,1010.8 1302.5,1009.5 1300.3,1008.7 1298.0,1007.3 1295.8,1006.5 1293.8,1007.1 1291.7,1007.3 1289.7,1008.0 1287.6,1007.8 1285.6,1008.5 1283.6,1008.2 1281.5,1008.7 1279.5,1008.6 1277.4,1009.3 1275.4,1009.5 1273.3,1009.4 1271.2,1009.3 1269.0,1010.3 1266.9,1009.4 1264.8,1009.8 1262.7,1010.3 1260.6,1010.1 1258.5,1009.7 1256.3,1010.0 1254.2,1009.8 1252.1,1010.0 1250.0,1010.3 1247.9,1011.1 1245.7,1011.1 1243.6,1010.2 1241.5,1010.5 1239.4,1010.4 1237.3,1010.8 1235.2,1011.8 1233.1,1011.5 1231.0,1011.5 1228.9,1012.5 1226.9,1012.4 1224.8,1012.5 1222.7,1012.3 1220.6,1012.7 1218.5,1012.8 1216.4,1013.1 1214.3,1012.5 1212.2,1012.9 1210.1,1013.8 1207.9,1013.5 1205.8,1014.0 1203.7,1013.6 1201.6,1013.0 1199.5,1013.4 1197.3,1013.1 1195.2,1013.8 1193.1,1013.7 1191.0,1013.9 1188.9,1013.5 1186.8,1014.7 1184.6,1013.4 1182.5,1013.5 1180.4,1013.9 1178.3,1013.8 1176.2,1013.3 1174.1,1012.8 1172.0,1013.0 1169.9,1012.3 1167.8,1012.3 1165.8,1011.7 1163.7,1012.7 1161.6,1011.8 1159.5,1012.1 1157.4,1010.7 1155.3,1010.5 1153.2,1010.6 1151.0,1010.9 1148.9,1011.7 1146.7,1011.2 1144.6,1010.6 1142.4,1011.3 1140.3,1011.9 1138.1,1011.0 1136.0,1011.1 1133.8,1012.5 1131.7,1011.9 1129.5,1012.3 1127.2,1012.1 1125.0,1011.0 1122.7,1009.7 1120.4,1009.0 1118.2,1009.1 1115.9,1008.4 1113.8,1007.8 1111.7,1008.1 1109.6,1007.8 1107.5,1007.9 1105.4,1008.8 1103.3,1008.0 1101.2,1007.5 1099.1,1007.7 1097.0,1007.4 1094.9,1007.7 1092.8,1007.6" fill="#9ccb9a"/>
</g>
<g stroke="#555" stroke-opacity="0.7" stroke-width="1"><line x1="774.4" y1="777.0" x2="774.4" y2="1042.6"/><line x1="907.5" y1="777.0" x2="907.5" y2="1042.6"/><line x1="1040.6" y1="777.0" x2="1040.6" y2="1042.6"/><line x1="741" y1="827.5" x2="1074.8" y2="827.5"/><line x1="741" y1="875.5" x2="1074.8" y2="875.5"/><line x1="741" y1="923.5" x2="1074.8" y2="923.5"/><line x1="741" y1="971.5" x2="1074.8" y2="971.5"/><line x1="741" y1="1019.5" x2="1074.8" y2="1019.5"/><line x1="1150.5" y1="777.0" x2="1150.5" y2="1042.6"/><line x1="1265.2" y1="777.0" x2="1265.2" y2="1042.6"/><line x1="1380.0" y1="777.0" x2="1380.0" y2="1042.6"/><line x1="1093" y1="825.3" x2="1437.5" y2="825.3"/><line x1="1093" y1="873.3" x2="1437.5" y2="873.3"/><line x1="1093" y1="921.3" x2="1437.5" y2="921.3"/><line x1="1093" y1="969.3" x2="1437.5" y2="969.3"/><line x1="1093" y1="1017.3" x2="1437.5" y2="1017.3"/></g>
<g clip-path="url(#d1clip)" fill="none" stroke-linejoin="round">
<polyline points="740.5,786.2 743.0,787.1 745.6,789.0 748.1,790.5 750.6,793.3 753.2,794.8 755.7,796.5 758.4,798.5 761.1,800.6 763.9,802.6 766.6,806.0 769.3,807.9 772.1,810.4 775.0,813.6 777.8,816.6 780.6,820.6 783.5,824.0 786.3,826.1 788.8,829.0 791.4,830.5 793.9,833.1 796.5,835.5 799.0,837.3 801.5,839.7 804.1,841.2 806.6,842.8 809.1,845.9 811.7,848.3 814.2,850.1 816.8,852.7 819.4,854.9 821.9,856.9 824.5,859.6 827.0,862.0 829.6,863.9 832.3,865.9 834.9,867.1 837.5,869.6 840.2,871.1 842.8,872.9 845.4,874.3 848.1,875.9 850.7,877.5 853.2,879.2 855.8,880.0 858.4,881.7 860.9,883.3 863.5,884.4 866.0,885.5 868.6,886.6 871.1,888.0 873.6,889.3 876.2,890.6 878.8,891.8 881.3,892.7 883.9,893.0 886.4,894.8 889.0,894.8 891.5,896.4 894.2,896.9 896.9,899.3 899.6,900.6 902.4,902.4 905.1,903.7 907.8,904.9 910.9,904.7 914.0,904.1 917.1,904.4 920.3,904.2 923.1,906.1 926.0,908.1 928.8,908.6 931.3,909.8 933.9,909.4 936.5,909.4 939.0,909.0 941.5,910.5 944.0,911.2 946.6,912.9 949.1,914.3 952.1,915.1 955.0,915.6 958.0,916.1 961.0,916.6 964.0,916.4 967.0,915.2 969.9,914.4 972.9,912.9 975.7,912.5 978.6,910.4 981.4,909.4 984.8,910.2 988.2,911.6 991.0,910.3 993.9,907.5 996.7,906.5 999.5,906.1 1002.3,904.8 1005.1,904.0 1007.7,901.8 1010.2,899.3 1013.2,898.8 1016.3,898.1 1019.2,890.9 1022.1,884.1 1025.5,883.4 1028.9,883.1 1031.8,867.8 1034.7,853.4 1039.1,862.3 1041.7,856.1 1044.2,848.2 1047.6,842.0 1051.0,836.2 1055.4,808.0 1057.7,789.3 1060.5,802.4 1064.5,770.0" stroke="#142a82" stroke-width="5.3"/>
</g>
<g clip-path="url(#d2clip)" fill="none" stroke-linejoin="round">
<polyline points="1092.8,987.4 1096.1,987.6 1099.4,987.4 1102.7,987.2 1106.0,987.0 1109.3,986.0 1112.6,986.2 1115.9,986.3 1119.3,987.7 1122.7,988.4 1126.1,990.2 1129.5,991.2 1132.9,990.9 1136.3,989.6 1139.7,989.5 1143.1,989.0 1146.5,989.7 1149.8,990.4 1153.2,991.5 1156.2,991.5 1159.2,991.4 1162.3,991.5 1165.3,991.9 1168.3,991.4 1171.3,992.1 1174.4,992.0 1177.4,992.1 1180.4,992.1 1183.4,992.0 1186.4,992.2 1189.4,992.3 1192.4,991.9 1195.5,992.3 1198.5,991.4 1201.5,991.4 1204.5,991.4 1207.5,991.5 1210.5,991.4 1213.5,991.2 1216.6,991.2 1219.6,991.0 1222.6,990.1 1225.6,990.1 1228.7,990.0 1231.7,989.5 1234.7,989.0 1238.1,989.4 1241.5,989.0 1244.9,989.2 1248.2,988.8 1251.6,989.1 1255.0,989.0 1258.4,988.0 1261.8,988.0 1265.2,987.3 1268.6,986.2 1272.0,985.3 1275.4,985.0 1278.5,984.0 1281.5,983.6 1284.6,983.0 1287.6,981.6 1290.7,980.7 1295.0,981.7 1299.2,982.8 1302.6,984.9 1305.9,986.7 1309.3,988.5 1312.7,987.3 1316.1,986.6 1319.5,985.0 1322.9,984.6 1326.3,984.9 1329.7,984.7 1333.1,985.2 1336.5,985.1 1339.9,985.9 1343.2,986.2 1346.6,987.1 1350.0,988.2 1353.4,988.3 1356.8,988.7 1360.2,989.8 1363.6,989.5 1367.0,990.3 1370.2,991.1 1373.5,990.6 1376.7,991.7 1379.9,991.7 1383.4,990.9 1386.9,990.7 1390.5,990.5 1394.0,990.0 1397.5,989.7 1400.6,989.3 1403.7,989.4 1406.8,990.2 1409.8,989.6 1412.9,989.7 1416.0,989.3 1419.1,989.5 1422.2,990.2 1425.3,989.9 1428.3,989.7 1431.4,989.3 1434.5,989.6 1437.6,989.7" stroke="#142a82" stroke-width="5.3"/>
</g>
<circle cx="907.8" cy="916.5" r="7.4" fill="none" stroke="#f2060e" stroke-width="5.7"/>
<circle cx="1379.9" cy="981.6" r="7.4" fill="none" stroke="#f2060e" stroke-width="5.7"/>
<rect x="1143" y="791.5" width="232.5" height="111" fill="#fff"/>
<line x1="1153.2" y1="813" x2="1230.6" y2="813.3" stroke="#142a82" stroke-width="4.2"/>
<rect x="1153.2" y="835" width="77.4" height="23.8" fill="#9ccb9a"/>
<circle cx="1191.6" cy="880.1" r="7.4" fill="none" stroke="#f2060e" stroke-width="5.7"/>
<text x="1245.0" y="820.5" font-size="25.5" textLength="120.5" lengthAdjust="spacingAndGlyphs" fill="#111">Mean loss</text>
<text x="1245.0" y="853.7" font-size="25.5" textLength="90.5" lengthAdjust="spacingAndGlyphs" fill="#111">95% CL</text>
<text x="1245.0" y="888.3" font-size="25.5" textLength="68.0" lengthAdjust="spacingAndGlyphs" fill="#111">OTDR</text>
<rect x="741" y="777.0" width="333.79999999999995" height="265.5999999999999" fill="none" stroke="#222" stroke-width="1.5"/>
<g stroke="#222" stroke-width="1.4"><line x1="774.4" y1="1042.6" x2="774.4" y2="1036.6"/><line x1="907.5" y1="1042.6" x2="907.5" y2="1036.6"/><line x1="1040.6" y1="1042.6" x2="1040.6" y2="1036.6"/><line x1="741" y1="827.5" x2="748" y2="827.5"/><line x1="741" y1="875.5" x2="748" y2="875.5"/><line x1="741" y1="923.5" x2="748" y2="923.5"/><line x1="741" y1="971.5" x2="748" y2="971.5"/><line x1="741" y1="1019.5" x2="748" y2="1019.5"/></g>
<text x="773.9" y="1070.4" font-size="22.5" text-anchor="middle" textLength="54.0" lengthAdjust="spacingAndGlyphs" fill="#111">1,270</text>
<text x="907.0" y="1070.4" font-size="22.5" text-anchor="middle" textLength="54.0" lengthAdjust="spacingAndGlyphs" fill="#111">1,310</text>
<text x="1040.1" y="1070.4" font-size="22.5" text-anchor="middle" textLength="54.0" lengthAdjust="spacingAndGlyphs" fill="#111">1,350</text>
<rect x="1093" y="777.0" width="344.5" height="265.5999999999999" fill="none" stroke="#222" stroke-width="1.5"/>
<g stroke="#222" stroke-width="1.4"><line x1="1150.5" y1="1042.6" x2="1150.5" y2="1036.6"/><line x1="1265.2" y1="1042.6" x2="1265.2" y2="1036.6"/><line x1="1380.0" y1="1042.6" x2="1380.0" y2="1036.6"/><line x1="1093" y1="825.3" x2="1100" y2="825.3"/><line x1="1093" y1="873.3" x2="1100" y2="873.3"/><line x1="1093" y1="921.3" x2="1100" y2="921.3"/><line x1="1093" y1="969.3" x2="1100" y2="969.3"/><line x1="1093" y1="1017.3" x2="1100" y2="1017.3"/></g>
<text x="1150.0" y="1070.4" font-size="22.5" text-anchor="middle" textLength="54.0" lengthAdjust="spacingAndGlyphs" fill="#111">1,510</text>
<text x="1264.8" y="1070.4" font-size="22.5" text-anchor="middle" textLength="54.0" lengthAdjust="spacingAndGlyphs" fill="#111">1,530</text>
<text x="1379.5" y="1070.4" font-size="22.5" text-anchor="middle" textLength="54.0" lengthAdjust="spacingAndGlyphs" fill="#111">1,550</text>
<text x="728.0" y="787.3" font-size="22.5" text-anchor="end" textLength="41.0" lengthAdjust="spacingAndGlyphs" fill="#111">0.18</text>
<text x="728.0" y="835.3" font-size="22.5" text-anchor="end" textLength="42.0" lengthAdjust="spacingAndGlyphs" fill="#111">0.16</text>
<text x="728.0" y="883.3" font-size="22.5" text-anchor="end" textLength="40.5" lengthAdjust="spacingAndGlyphs" fill="#111">0.14</text>
<text x="728.0" y="931.3" font-size="22.5" text-anchor="end" textLength="40.0" lengthAdjust="spacingAndGlyphs" fill="#111">0.12</text>
<text x="728.0" y="979.3" font-size="22.5" text-anchor="end" textLength="43.0" lengthAdjust="spacingAndGlyphs" fill="#111">0.10</text>
<text x="728.0" y="1027.3" font-size="22.5" text-anchor="end" textLength="47.0" lengthAdjust="spacingAndGlyphs" fill="#111">0.08</text>
<text x="1087.0" y="1111.4" font-size="25" text-anchor="middle" textLength="206.0" lengthAdjust="spacingAndGlyphs" fill="#111">Wavelength (nm)</text>
<text x="660.0" y="996.5" font-size="25" textLength="172.0" lengthAdjust="spacingAndGlyphs" fill="#111" transform="rotate(-90 660.0 996.5)">Loss (dB km<tspan dy="-10" font-size="15.5">−1</tspan><tspan dy="10">)</tspan></text>
</svg></body></html>
